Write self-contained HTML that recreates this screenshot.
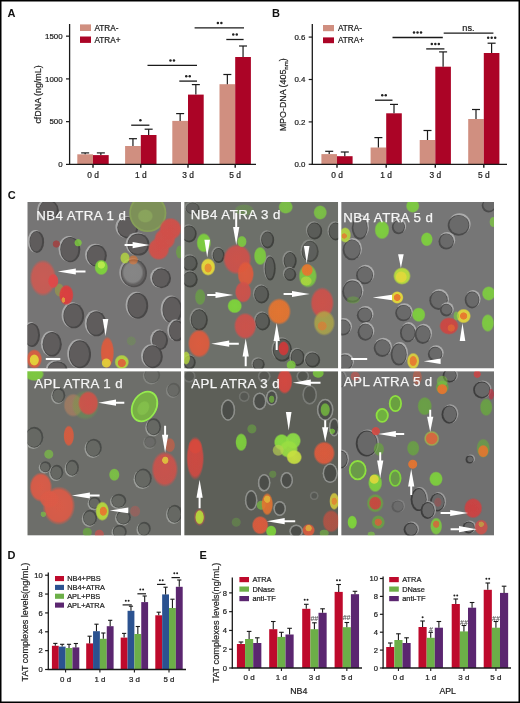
<!DOCTYPE html>
<html><head><meta charset="utf-8"><style>
html,body{margin:0;padding:0;background:#fff;}
svg{display:block;will-change:transform;}
text{font-family:"Liberation Sans", sans-serif;}
</style></head><body>
<svg width="520" height="703" viewBox="0 0 520 703">
<defs>
<filter id="soft" x="-5%" y="-5%" width="110%" height="110%"><feGaussianBlur stdDeviation="0.6"/></filter>
<radialGradient id="gr0"><stop offset="0" stop-color="#8a8a8a"/><stop offset="0.8" stop-color="#8a8a8a" stop-opacity="0.95"/><stop offset="1" stop-color="#8a8a8a" stop-opacity="0"/></radialGradient><radialGradient id="gr1"><stop offset="0" stop-color="#cc5a52"/><stop offset="0.8" stop-color="#cc5a52" stop-opacity="0.95"/><stop offset="1" stop-color="#cc5a52" stop-opacity="0"/></radialGradient><radialGradient id="gr2"><stop offset="0" stop-color="#96b860"/><stop offset="0.8" stop-color="#96b860" stop-opacity="0.95"/><stop offset="1" stop-color="#96b860" stop-opacity="0"/></radialGradient><radialGradient id="gr3"><stop offset="0" stop-color="#d0504a"/><stop offset="0.8" stop-color="#d0504a" stop-opacity="0.95"/><stop offset="1" stop-color="#d0504a" stop-opacity="0"/></radialGradient><radialGradient id="gr4"><stop offset="0" stop-color="#a0a040"/><stop offset="0.8" stop-color="#a0a040" stop-opacity="0.95"/><stop offset="1" stop-color="#a0a040" stop-opacity="0"/></radialGradient><radialGradient id="gr5"><stop offset="0" stop-color="#e04848"/><stop offset="0.8" stop-color="#e04848" stop-opacity="0.95"/><stop offset="1" stop-color="#e04848" stop-opacity="0"/></radialGradient><radialGradient id="gr6"><stop offset="0" stop-color="#e03c3c"/><stop offset="0.8" stop-color="#e03c3c" stop-opacity="0.95"/><stop offset="1" stop-color="#e03c3c" stop-opacity="0"/></radialGradient><radialGradient id="gr7"><stop offset="0" stop-color="#e4d83a"/><stop offset="0.8" stop-color="#e4d83a" stop-opacity="0.95"/><stop offset="1" stop-color="#e4d83a" stop-opacity="0"/></radialGradient><radialGradient id="gr8"><stop offset="0" stop-color="#e05a3c"/><stop offset="0.8" stop-color="#e05a3c" stop-opacity="0.95"/><stop offset="1" stop-color="#e05a3c" stop-opacity="0"/></radialGradient><radialGradient id="gr9"><stop offset="0" stop-color="#b8dc3c"/><stop offset="0.8" stop-color="#b8dc3c" stop-opacity="0.95"/><stop offset="1" stop-color="#b8dc3c" stop-opacity="0"/></radialGradient><radialGradient id="gr10"><stop offset="0" stop-color="#a04040"/><stop offset="0.8" stop-color="#a04040" stop-opacity="0.95"/><stop offset="1" stop-color="#a04040" stop-opacity="0"/></radialGradient><radialGradient id="gr11"><stop offset="0" stop-color="#7ed23c"/><stop offset="0.8" stop-color="#7ed23c" stop-opacity="0.95"/><stop offset="1" stop-color="#7ed23c" stop-opacity="0"/></radialGradient><radialGradient id="gr12"><stop offset="0" stop-color="#c8f050"/><stop offset="0.8" stop-color="#c8f050" stop-opacity="0.95"/><stop offset="1" stop-color="#c8f050" stop-opacity="0"/></radialGradient><radialGradient id="gr13"><stop offset="0" stop-color="#e8742e"/><stop offset="0.8" stop-color="#e8742e" stop-opacity="0.95"/><stop offset="1" stop-color="#e8742e" stop-opacity="0"/></radialGradient><radialGradient id="gr14"><stop offset="0" stop-color="#6aa83e"/><stop offset="0.8" stop-color="#6aa83e" stop-opacity="0.95"/><stop offset="1" stop-color="#6aa83e" stop-opacity="0"/></radialGradient><radialGradient id="gr15"><stop offset="0" stop-color="#b0a848"/><stop offset="0.8" stop-color="#b0a848" stop-opacity="0.95"/><stop offset="1" stop-color="#b0a848" stop-opacity="0"/></radialGradient><radialGradient id="gr16"><stop offset="0" stop-color="#d03838"/><stop offset="0.8" stop-color="#d03838" stop-opacity="0.95"/><stop offset="1" stop-color="#d03838" stop-opacity="0"/></radialGradient><radialGradient id="gr17"><stop offset="0" stop-color="#d04440"/><stop offset="0.8" stop-color="#d04440" stop-opacity="0.95"/><stop offset="1" stop-color="#d04440" stop-opacity="0"/></radialGradient><radialGradient id="gr18"><stop offset="0" stop-color="#b08060"/><stop offset="0.8" stop-color="#b08060" stop-opacity="0.95"/><stop offset="1" stop-color="#b08060" stop-opacity="0"/></radialGradient><radialGradient id="gr19"><stop offset="0" stop-color="#8ac850"/><stop offset="0.8" stop-color="#8ac850" stop-opacity="0.95"/><stop offset="1" stop-color="#8ac850" stop-opacity="0"/></radialGradient><radialGradient id="gr20"><stop offset="0" stop-color="#dc5a46"/><stop offset="0.8" stop-color="#dc5a46" stop-opacity="0.95"/><stop offset="1" stop-color="#dc5a46" stop-opacity="0"/></radialGradient><radialGradient id="gr21"><stop offset="0" stop-color="#b85a52"/><stop offset="0.8" stop-color="#b85a52" stop-opacity="0.95"/><stop offset="1" stop-color="#b85a52" stop-opacity="0"/></radialGradient><radialGradient id="gr22"><stop offset="0" stop-color="#d84840"/><stop offset="0.8" stop-color="#d84840" stop-opacity="0.95"/><stop offset="1" stop-color="#d84840" stop-opacity="0"/></radialGradient><radialGradient id="gr23"><stop offset="0" stop-color="#8ade40"/><stop offset="0.8" stop-color="#8ade40" stop-opacity="0.95"/><stop offset="1" stop-color="#8ade40" stop-opacity="0"/></radialGradient><radialGradient id="gr24"><stop offset="0" stop-color="#8ede44"/><stop offset="0.8" stop-color="#8ede44" stop-opacity="0.95"/><stop offset="1" stop-color="#8ede44" stop-opacity="0"/></radialGradient><radialGradient id="gr25"><stop offset="0" stop-color="#9ade42"/><stop offset="0.8" stop-color="#9ade42" stop-opacity="0.95"/><stop offset="1" stop-color="#9ade42" stop-opacity="0"/></radialGradient><radialGradient id="gr26"><stop offset="0" stop-color="#c8e040"/><stop offset="0.8" stop-color="#c8e040" stop-opacity="0.95"/><stop offset="1" stop-color="#c8e040" stop-opacity="0"/></radialGradient><radialGradient id="gr27"><stop offset="0" stop-color="#b8d050"/><stop offset="0.8" stop-color="#b8d050" stop-opacity="0.95"/><stop offset="1" stop-color="#b8d050" stop-opacity="0"/></radialGradient><radialGradient id="gr28"><stop offset="0" stop-color="#e04838"/><stop offset="0.8" stop-color="#e04838" stop-opacity="0.95"/><stop offset="1" stop-color="#e04838" stop-opacity="0"/></radialGradient><radialGradient id="gr29"><stop offset="0" stop-color="#c05040"/><stop offset="0.8" stop-color="#c05040" stop-opacity="0.95"/><stop offset="1" stop-color="#c05040" stop-opacity="0"/></radialGradient><radialGradient id="gr30"><stop offset="0" stop-color="#d84040"/><stop offset="0.8" stop-color="#d84040" stop-opacity="0.95"/><stop offset="1" stop-color="#d84040" stop-opacity="0"/></radialGradient><radialGradient id="gr31"><stop offset="0" stop-color="#c03040"/><stop offset="0.8" stop-color="#c03040" stop-opacity="0.95"/><stop offset="1" stop-color="#c03040" stop-opacity="0"/></radialGradient><radialGradient id="gr32"><stop offset="0" stop-color="#d04040"/><stop offset="0.8" stop-color="#d04040" stop-opacity="0.95"/><stop offset="1" stop-color="#d04040" stop-opacity="0"/></radialGradient><radialGradient id="gr33"><stop offset="0" stop-color="#a05050"/><stop offset="0.8" stop-color="#a05050" stop-opacity="0.95"/><stop offset="1" stop-color="#a05050" stop-opacity="0"/></radialGradient><radialGradient id="rim" cx="0.45" cy="0.45" r="0.56"><stop offset="0.85" stop-color="#a2a2a2"/><stop offset="0.95" stop-color="#929292"/><stop offset="1" stop-color="#858585" stop-opacity="0.3"/></radialGradient><radialGradient id="cellin" cx="0.45" cy="0.45" r="0.55"><stop offset="0" stop-color="#626262"/><stop offset="0.75" stop-color="#5a5a5a"/><stop offset="1" stop-color="#4a4a4a"/></radialGradient><radialGradient id="gred"><stop offset="0" stop-color="#e4553f"/><stop offset="0.75" stop-color="#d4463a"/><stop offset="1" stop-color="#c84038" stop-opacity="0"/></radialGradient>
<radialGradient id="ggreen"><stop offset="0" stop-color="#8fcf48"/><stop offset="0.75" stop-color="#78c23a"/><stop offset="1" stop-color="#6aaa3a" stop-opacity="0"/></radialGradient>
<radialGradient id="gyel"><stop offset="0" stop-color="#e6e040"/><stop offset="0.6" stop-color="#d8d040" stop-opacity="0.8"/><stop offset="1" stop-color="#d0c840" stop-opacity="0"/></radialGradient>
</defs>
<rect width="520" height="703" fill="#fff"/>
<text x="7.60" y="17.00" font-size="11" text-anchor="start" fill="#111" font-weight="bold" >A</text>
<line x1="66.00" y1="164.40" x2="69.60" y2="164.40" stroke="#1a1a1a" stroke-width="1.2"/>
<text x="62.60" y="167.20" font-size="7.9" text-anchor="end" fill="#222" font-weight="normal" stroke="#222" stroke-width="0.22" >0</text>
<line x1="66.00" y1="121.65" x2="69.60" y2="121.65" stroke="#1a1a1a" stroke-width="1.2"/>
<text x="62.60" y="124.45" font-size="7.9" text-anchor="end" fill="#222" font-weight="normal" stroke="#222" stroke-width="0.22" >500</text>
<line x1="66.00" y1="78.90" x2="69.60" y2="78.90" stroke="#1a1a1a" stroke-width="1.2"/>
<text x="62.60" y="81.70" font-size="7.9" text-anchor="end" fill="#222" font-weight="normal" stroke="#222" stroke-width="0.22" >1000</text>
<line x1="66.00" y1="36.15" x2="69.60" y2="36.15" stroke="#1a1a1a" stroke-width="1.2"/>
<text x="62.60" y="38.95" font-size="7.9" text-anchor="end" fill="#222" font-weight="normal" stroke="#222" stroke-width="0.22" >1500</text>
<text transform="translate(40.6,94.5) rotate(-90)" font-size="8.9" text-anchor="middle" fill="#222" stroke="#222" stroke-width="0.2">cfDNA (ng/mL)</text>
<rect x="77.30" y="154.30" width="15.70" height="10.10" fill="#d08f80"/>
<rect x="93.00" y="155.10" width="15.70" height="9.30" fill="#ab0426"/>
<line x1="85.15" y1="154.30" x2="85.15" y2="152.90" stroke="#1a1a1a" stroke-width="1.2"/>
<line x1="81.15" y1="152.90" x2="89.15" y2="152.90" stroke="#1a1a1a" stroke-width="1.2"/>
<line x1="100.85" y1="155.10" x2="100.85" y2="152.90" stroke="#1a1a1a" stroke-width="1.2"/>
<line x1="96.85" y1="152.90" x2="104.85" y2="152.90" stroke="#1a1a1a" stroke-width="1.2"/>
<line x1="93.00" y1="164.40" x2="93.00" y2="167.80" stroke="#1a1a1a" stroke-width="1.4"/>
<text x="93.00" y="178.30" font-size="8.4" text-anchor="middle" fill="#222" font-weight="normal" stroke="#222" stroke-width="0.22" >0 d</text>
<rect x="125.10" y="146.00" width="15.70" height="18.40" fill="#d08f80"/>
<rect x="140.80" y="135.00" width="15.70" height="29.40" fill="#ab0426"/>
<line x1="132.95" y1="146.00" x2="132.95" y2="138.70" stroke="#1a1a1a" stroke-width="1.2"/>
<line x1="128.95" y1="138.70" x2="136.95" y2="138.70" stroke="#1a1a1a" stroke-width="1.2"/>
<line x1="148.65" y1="135.00" x2="148.65" y2="129.20" stroke="#1a1a1a" stroke-width="1.2"/>
<line x1="144.65" y1="129.20" x2="152.65" y2="129.20" stroke="#1a1a1a" stroke-width="1.2"/>
<line x1="140.80" y1="164.40" x2="140.80" y2="167.80" stroke="#1a1a1a" stroke-width="1.4"/>
<text x="140.80" y="178.30" font-size="8.4" text-anchor="middle" fill="#222" font-weight="normal" stroke="#222" stroke-width="0.22" >1 d</text>
<rect x="172.30" y="120.90" width="15.70" height="43.50" fill="#d08f80"/>
<rect x="188.00" y="94.60" width="15.70" height="69.80" fill="#ab0426"/>
<line x1="180.15" y1="120.90" x2="180.15" y2="113.60" stroke="#1a1a1a" stroke-width="1.2"/>
<line x1="176.15" y1="113.60" x2="184.15" y2="113.60" stroke="#1a1a1a" stroke-width="1.2"/>
<line x1="195.85" y1="94.60" x2="195.85" y2="84.60" stroke="#1a1a1a" stroke-width="1.2"/>
<line x1="191.85" y1="84.60" x2="199.85" y2="84.60" stroke="#1a1a1a" stroke-width="1.2"/>
<line x1="188.00" y1="164.40" x2="188.00" y2="167.80" stroke="#1a1a1a" stroke-width="1.4"/>
<text x="188.00" y="178.30" font-size="8.4" text-anchor="middle" fill="#222" font-weight="normal" stroke="#222" stroke-width="0.22" >3 d</text>
<rect x="219.50" y="84.20" width="15.70" height="80.20" fill="#d08f80"/>
<rect x="235.20" y="57.00" width="15.70" height="107.40" fill="#ab0426"/>
<line x1="227.35" y1="84.20" x2="227.35" y2="74.50" stroke="#1a1a1a" stroke-width="1.2"/>
<line x1="223.35" y1="74.50" x2="231.35" y2="74.50" stroke="#1a1a1a" stroke-width="1.2"/>
<line x1="243.05" y1="57.00" x2="243.05" y2="46.00" stroke="#1a1a1a" stroke-width="1.2"/>
<line x1="239.05" y1="46.00" x2="247.05" y2="46.00" stroke="#1a1a1a" stroke-width="1.2"/>
<line x1="235.20" y1="164.40" x2="235.20" y2="167.80" stroke="#1a1a1a" stroke-width="1.4"/>
<text x="235.20" y="178.30" font-size="8.4" text-anchor="middle" fill="#222" font-weight="normal" stroke="#222" stroke-width="0.22" >5 d</text>
<line x1="69.60" y1="24.00" x2="69.60" y2="165.00" stroke="#1a1a1a" stroke-width="1.3"/>
<line x1="69.00" y1="164.40" x2="256.00" y2="164.40" stroke="#1a1a1a" stroke-width="1.3"/>
<rect x="80.00" y="24.40" width="11.00" height="6.60" fill="#d08f80"/>
<rect x="80.00" y="36.50" width="11.00" height="6.40" fill="#ab0426"/>
<text x="94.50" y="30.80" font-size="8.2" text-anchor="start" fill="#222" font-weight="normal" stroke="#222" stroke-width="0.22" >ATRA-</text>
<text x="94.50" y="42.80" font-size="8.2" text-anchor="start" fill="#222" font-weight="normal" stroke="#222" stroke-width="0.22" >ATRA+</text>
<line x1="131.20" y1="125.20" x2="149.40" y2="125.20" stroke="#1a1a1a" stroke-width="1.3"/>
<circle cx="140.40" cy="120.20" r="1.25" fill="#222"/>
<line x1="147.50" y1="65.30" x2="197.00" y2="65.30" stroke="#1a1a1a" stroke-width="1.3"/>
<circle cx="170.45" cy="60.40" r="1.25" fill="#222"/>
<circle cx="173.95" cy="60.40" r="1.25" fill="#222"/>
<line x1="179.30" y1="81.10" x2="197.00" y2="81.10" stroke="#1a1a1a" stroke-width="1.3"/>
<circle cx="186.25" cy="76.20" r="1.25" fill="#222"/>
<circle cx="189.75" cy="76.20" r="1.25" fill="#222"/>
<line x1="194.60" y1="27.90" x2="244.00" y2="27.90" stroke="#1a1a1a" stroke-width="1.3"/>
<circle cx="217.85" cy="23.00" r="1.25" fill="#222"/>
<circle cx="221.35" cy="23.00" r="1.25" fill="#222"/>
<line x1="226.30" y1="39.50" x2="243.60" y2="39.50" stroke="#1a1a1a" stroke-width="1.3"/>
<circle cx="233.25" cy="34.40" r="1.25" fill="#222"/>
<circle cx="236.75" cy="34.40" r="1.25" fill="#222"/>
<text x="272.00" y="17.20" font-size="11" text-anchor="start" fill="#111" font-weight="bold" >B</text>
<line x1="308.70" y1="164.30" x2="312.30" y2="164.30" stroke="#1a1a1a" stroke-width="1.2"/>
<text x="305.40" y="167.10" font-size="7.9" text-anchor="end" fill="#222" font-weight="normal" stroke="#222" stroke-width="0.22" >0.0</text>
<line x1="308.70" y1="121.90" x2="312.30" y2="121.90" stroke="#1a1a1a" stroke-width="1.2"/>
<text x="305.40" y="124.70" font-size="7.9" text-anchor="end" fill="#222" font-weight="normal" stroke="#222" stroke-width="0.22" >0.2</text>
<line x1="308.70" y1="79.50" x2="312.30" y2="79.50" stroke="#1a1a1a" stroke-width="1.2"/>
<text x="305.40" y="82.30" font-size="7.9" text-anchor="end" fill="#222" font-weight="normal" stroke="#222" stroke-width="0.22" >0.4</text>
<line x1="308.70" y1="37.10" x2="312.30" y2="37.10" stroke="#1a1a1a" stroke-width="1.2"/>
<text x="305.40" y="39.90" font-size="7.9" text-anchor="end" fill="#222" font-weight="normal" stroke="#222" stroke-width="0.22" >0.6</text>
<text transform="translate(286,94.8) rotate(-90)" font-size="8.9" text-anchor="middle" fill="#222" stroke="#222" stroke-width="0.2">MPO-DNA (405<tspan font-size="6" dy="1.5">nm</tspan><tspan dy="-1.5">)</tspan></text>
<rect x="321.40" y="154.10" width="15.60" height="10.20" fill="#d08f80"/>
<rect x="337.00" y="156.20" width="15.60" height="8.10" fill="#ab0426"/>
<line x1="329.20" y1="154.10" x2="329.20" y2="151.30" stroke="#1a1a1a" stroke-width="1.2"/>
<line x1="325.20" y1="151.30" x2="333.20" y2="151.30" stroke="#1a1a1a" stroke-width="1.2"/>
<line x1="344.80" y1="156.20" x2="344.80" y2="152.00" stroke="#1a1a1a" stroke-width="1.2"/>
<line x1="340.80" y1="152.00" x2="348.80" y2="152.00" stroke="#1a1a1a" stroke-width="1.2"/>
<line x1="337.00" y1="164.30" x2="337.00" y2="167.70" stroke="#1a1a1a" stroke-width="1.4"/>
<text x="337.00" y="178.30" font-size="8.4" text-anchor="middle" fill="#222" font-weight="normal" stroke="#222" stroke-width="0.22" >0 d</text>
<rect x="370.60" y="147.50" width="15.60" height="16.80" fill="#d08f80"/>
<rect x="386.20" y="113.30" width="15.60" height="51.00" fill="#ab0426"/>
<line x1="378.40" y1="147.50" x2="378.40" y2="137.60" stroke="#1a1a1a" stroke-width="1.2"/>
<line x1="374.40" y1="137.60" x2="382.40" y2="137.60" stroke="#1a1a1a" stroke-width="1.2"/>
<line x1="394.00" y1="113.30" x2="394.00" y2="104.40" stroke="#1a1a1a" stroke-width="1.2"/>
<line x1="390.00" y1="104.40" x2="398.00" y2="104.40" stroke="#1a1a1a" stroke-width="1.2"/>
<line x1="386.20" y1="164.30" x2="386.20" y2="167.70" stroke="#1a1a1a" stroke-width="1.4"/>
<text x="386.20" y="178.30" font-size="8.4" text-anchor="middle" fill="#222" font-weight="normal" stroke="#222" stroke-width="0.22" >1 d</text>
<rect x="419.70" y="140.00" width="15.60" height="24.30" fill="#d08f80"/>
<rect x="435.30" y="66.70" width="15.60" height="97.60" fill="#ab0426"/>
<line x1="427.50" y1="140.00" x2="427.50" y2="130.50" stroke="#1a1a1a" stroke-width="1.2"/>
<line x1="423.50" y1="130.50" x2="431.50" y2="130.50" stroke="#1a1a1a" stroke-width="1.2"/>
<line x1="443.10" y1="66.70" x2="443.10" y2="51.90" stroke="#1a1a1a" stroke-width="1.2"/>
<line x1="439.10" y1="51.90" x2="447.10" y2="51.90" stroke="#1a1a1a" stroke-width="1.2"/>
<line x1="435.30" y1="164.30" x2="435.30" y2="167.70" stroke="#1a1a1a" stroke-width="1.4"/>
<text x="435.30" y="178.30" font-size="8.4" text-anchor="middle" fill="#222" font-weight="normal" stroke="#222" stroke-width="0.22" >3 d</text>
<rect x="468.20" y="119.00" width="15.60" height="45.30" fill="#d08f80"/>
<rect x="483.80" y="53.00" width="15.60" height="111.30" fill="#ab0426"/>
<line x1="476.00" y1="119.00" x2="476.00" y2="109.50" stroke="#1a1a1a" stroke-width="1.2"/>
<line x1="472.00" y1="109.50" x2="480.00" y2="109.50" stroke="#1a1a1a" stroke-width="1.2"/>
<line x1="491.60" y1="53.00" x2="491.60" y2="43.20" stroke="#1a1a1a" stroke-width="1.2"/>
<line x1="487.60" y1="43.20" x2="495.60" y2="43.20" stroke="#1a1a1a" stroke-width="1.2"/>
<line x1="483.80" y1="164.30" x2="483.80" y2="167.70" stroke="#1a1a1a" stroke-width="1.4"/>
<text x="483.80" y="178.30" font-size="8.4" text-anchor="middle" fill="#222" font-weight="normal" stroke="#222" stroke-width="0.22" >5 d</text>
<line x1="312.30" y1="24.00" x2="312.30" y2="164.90" stroke="#1a1a1a" stroke-width="1.3"/>
<line x1="311.70" y1="164.30" x2="507.00" y2="164.30" stroke="#1a1a1a" stroke-width="1.3"/>
<rect x="323.00" y="25.00" width="11.00" height="6.20" fill="#d08f80"/>
<rect x="323.00" y="37.40" width="11.00" height="5.80" fill="#ab0426"/>
<text x="338.00" y="31.00" font-size="8.2" text-anchor="start" fill="#222" font-weight="normal" stroke="#222" stroke-width="0.22" >ATRA-</text>
<text x="338.00" y="43.20" font-size="8.2" text-anchor="start" fill="#222" font-weight="normal" stroke="#222" stroke-width="0.22" >ATRA+</text>
<line x1="375.00" y1="100.20" x2="392.50" y2="100.20" stroke="#1a1a1a" stroke-width="1.3"/>
<circle cx="382.25" cy="95.30" r="1.25" fill="#222"/>
<circle cx="385.75" cy="95.30" r="1.25" fill="#222"/>
<line x1="392.50" y1="37.50" x2="442.80" y2="37.50" stroke="#1a1a1a" stroke-width="1.3"/>
<circle cx="414.00" cy="32.50" r="1.25" fill="#222"/>
<circle cx="417.50" cy="32.50" r="1.25" fill="#222"/>
<circle cx="421.00" cy="32.50" r="1.25" fill="#222"/>
<line x1="426.20" y1="48.90" x2="444.40" y2="48.90" stroke="#1a1a1a" stroke-width="1.3"/>
<circle cx="431.80" cy="43.90" r="1.25" fill="#222"/>
<circle cx="435.30" cy="43.90" r="1.25" fill="#222"/>
<circle cx="438.80" cy="43.90" r="1.25" fill="#222"/>
<line x1="443.70" y1="33.20" x2="493.40" y2="33.20" stroke="#1a1a1a" stroke-width="1.3"/>
<text x="468.40" y="31.00" font-size="9.2" text-anchor="middle" fill="#222" font-weight="normal" stroke="#222" stroke-width="0.22" >ns.</text>
<circle cx="488.20" cy="37.80" r="1.25" fill="#222"/>
<circle cx="491.70" cy="37.80" r="1.25" fill="#222"/>
<circle cx="495.20" cy="37.80" r="1.25" fill="#222"/>
<text x="7.80" y="199.00" font-size="11" text-anchor="start" fill="#111" font-weight="bold" >C</text>
<clipPath id="clipI1"><rect x="27.3" y="202.0" width="153.7" height="166.5"/></clipPath>
<g clip-path="url(#clipI1)"><g filter="url(#soft)">
<rect x="27.30" y="202.00" width="153.70" height="166.50" fill="#767474"/>
<g opacity="1"><ellipse cx="47.3" cy="209.6" rx="10.3" ry="10.8" fill="#a8a8a8"/><ellipse cx="48.8" cy="210.3" rx="10.0" ry="10.5" fill="#484747"/><ellipse cx="48.1" cy="210.0" rx="8.8" ry="9.3" fill="#5e5c5c"/></g>
<g opacity="1"><ellipse cx="35.3" cy="241.2" rx="7.6" ry="11.3" fill="#a8a8a8"/><ellipse cx="36.8" cy="241.9" rx="7.3" ry="11.0" fill="#484747"/><ellipse cx="36.1" cy="241.6" rx="6.1" ry="9.8" fill="#5e5c5c"/></g>
<g opacity="1"><ellipse cx="68.8" cy="248.9" rx="10.3" ry="13.0" fill="#a8a8a8"/><ellipse cx="70.3" cy="249.6" rx="10.0" ry="12.7" fill="#484747"/><ellipse cx="69.6" cy="249.3" rx="8.8" ry="11.5" fill="#5e5c5c"/></g>
<g opacity="1"><ellipse cx="95.3" cy="255.1" rx="10.3" ry="11.3" fill="#a8a8a8"/><ellipse cx="96.8" cy="255.8" rx="10.0" ry="11.0" fill="#484747"/><ellipse cx="96.1" cy="255.5" rx="8.8" ry="9.8" fill="#5e5c5c"/></g>
<g opacity="1"><ellipse cx="126.3" cy="226.9" rx="10.8" ry="11.0" fill="#a8a8a8"/><ellipse cx="127.8" cy="227.6" rx="10.5" ry="10.7" fill="#484747"/><ellipse cx="127.1" cy="227.3" rx="9.3" ry="9.5" fill="#5e5c5c"/></g>
<g opacity="1"><ellipse cx="137.0" cy="243.9" rx="11.3" ry="11.3" fill="#a8a8a8"/><ellipse cx="138.5" cy="244.6" rx="11.0" ry="11.0" fill="#484747"/><ellipse cx="137.8" cy="244.3" rx="9.8" ry="9.8" fill="#5e5c5c"/></g>
<g opacity="0.8"><ellipse cx="132.5" cy="272.6" rx="13.3" ry="14.3" fill="#a8a8a8"/><ellipse cx="134.0" cy="273.3" rx="13.0" ry="14.0" fill="#484747"/><ellipse cx="133.3" cy="273.0" rx="11.8" ry="12.8" fill="#5e5c5c"/></g>
<ellipse cx="132.8" cy="272.5" rx="11.0" ry="12.0" fill="url(#gr0)" opacity="0.9"/>
<g opacity="1"><ellipse cx="160.0" cy="277.6" rx="9.8" ry="10.3" fill="#a8a8a8"/><ellipse cx="161.5" cy="278.3" rx="9.5" ry="10.0" fill="#484747"/><ellipse cx="160.8" cy="278.0" rx="8.3" ry="8.8" fill="#5e5c5c"/></g>
<g opacity="1"><ellipse cx="72.3" cy="315.1" rx="10.7" ry="12.8" fill="#a8a8a8"/><ellipse cx="73.8" cy="315.8" rx="10.4" ry="12.5" fill="#484747"/><ellipse cx="73.1" cy="315.5" rx="9.2" ry="11.3" fill="#5e5c5c"/></g>
<g opacity="1"><ellipse cx="95.0" cy="323.1" rx="10.3" ry="12.8" fill="#a8a8a8"/><ellipse cx="96.5" cy="323.8" rx="10.0" ry="12.5" fill="#484747"/><ellipse cx="95.8" cy="323.5" rx="8.8" ry="11.3" fill="#5e5c5c"/></g>
<g opacity="1"><ellipse cx="30.5" cy="334.3" rx="8.3" ry="12.3" fill="#a8a8a8"/><ellipse cx="32.0" cy="335.0" rx="8.0" ry="12.0" fill="#484747"/><ellipse cx="31.3" cy="334.7" rx="6.8" ry="10.8" fill="#5e5c5c"/></g>
<g opacity="1"><ellipse cx="50.7" cy="343.6" rx="9.9" ry="12.6" fill="#a8a8a8"/><ellipse cx="52.2" cy="344.3" rx="9.6" ry="12.3" fill="#484747"/><ellipse cx="51.5" cy="344.0" rx="8.4" ry="11.1" fill="#5e5c5c"/></g>
<g opacity="1"><ellipse cx="78.5" cy="353.6" rx="11.3" ry="14.3" fill="#a8a8a8"/><ellipse cx="80.0" cy="354.3" rx="11.0" ry="14.0" fill="#484747"/><ellipse cx="79.3" cy="354.0" rx="9.8" ry="12.8" fill="#5e5c5c"/></g>
<g opacity="1"><ellipse cx="56.0" cy="368.6" rx="10.3" ry="8.3" fill="#a8a8a8"/><ellipse cx="57.5" cy="369.3" rx="10.0" ry="8.0" fill="#484747"/><ellipse cx="56.8" cy="369.0" rx="8.8" ry="6.8" fill="#5e5c5c"/></g>
<g opacity="1"><ellipse cx="136.3" cy="305.1" rx="10.7" ry="13.3" fill="#a8a8a8"/><ellipse cx="137.8" cy="305.8" rx="10.4" ry="13.0" fill="#484747"/><ellipse cx="137.1" cy="305.5" rx="9.2" ry="11.8" fill="#5e5c5c"/></g>
<g opacity="1"><ellipse cx="171.0" cy="309.3" rx="10.3" ry="13.7" fill="#a8a8a8"/><ellipse cx="172.5" cy="310.0" rx="10.0" ry="13.4" fill="#484747"/><ellipse cx="171.8" cy="309.7" rx="8.8" ry="12.2" fill="#5e5c5c"/></g>
<g opacity="1"><ellipse cx="175.5" cy="330.1" rx="8.3" ry="10.8" fill="#a8a8a8"/><ellipse cx="177.0" cy="330.8" rx="8.0" ry="10.5" fill="#484747"/><ellipse cx="176.3" cy="330.5" rx="6.8" ry="9.3" fill="#5e5c5c"/></g>
<g opacity="1"><ellipse cx="158.5" cy="339.6" rx="8.3" ry="10.3" fill="#a8a8a8"/><ellipse cx="160.0" cy="340.3" rx="8.0" ry="10.0" fill="#484747"/><ellipse cx="159.3" cy="340.0" rx="6.8" ry="8.8" fill="#5e5c5c"/></g>
<g opacity="1"><ellipse cx="151.3" cy="356.0" rx="10.3" ry="11.8" fill="#a8a8a8"/><ellipse cx="152.8" cy="356.7" rx="10.0" ry="11.5" fill="#484747"/><ellipse cx="152.1" cy="356.4" rx="8.8" ry="10.3" fill="#5e5c5c"/></g>
<ellipse cx="43.0" cy="278.0" rx="13.5" ry="18.5" fill="url(#gr1)" opacity="0.95"/>
<ellipse cx="147.8" cy="213.0" rx="17.7" ry="18.2" fill="#7d9058" stroke="#869e58" stroke-width="1.8"/>
<ellipse cx="145.3" cy="216.0" rx="8.0" ry="7.0" fill="url(#gr2)" opacity="0.5"/>
<ellipse cx="170.5" cy="229.0" rx="11.5" ry="11.5" fill="url(#gr3)" opacity="1"/>
<ellipse cx="164.8" cy="239.0" rx="11.0" ry="11.0" fill="url(#gr3)" opacity="1"/>
<ellipse cx="158.7" cy="249.0" rx="11.0" ry="11.5" fill="url(#gr3)" opacity="1"/>
<ellipse cx="59.3" cy="290.0" rx="5.0" ry="7.0" fill="url(#gr4)" opacity="0.6"/>
<ellipse cx="53.3" cy="281.0" rx="5.5" ry="7.5" fill="url(#gr5)" opacity="0.95"/>
<ellipse cx="66.3" cy="295.0" rx="7.5" ry="10.5" fill="url(#gr6)" opacity="0.95"/>
<ellipse cx="63.3" cy="300.0" rx="2.0" ry="3.0" fill="url(#gr7)" opacity="0.6"/>
<ellipse cx="107.3" cy="352.5" rx="7.0" ry="16.0" fill="url(#gr8)" opacity="0.95"/>
<ellipse cx="106.3" cy="363.0" rx="5.0" ry="5.0" fill="url(#gr7)" opacity="0.9"/>
<ellipse cx="34.3" cy="359.0" rx="8.0" ry="10.0" fill="url(#gr8)" opacity="0.9"/>
<ellipse cx="34.3" cy="360.0" rx="5.0" ry="6.0" fill="url(#gr7)" opacity="0.95"/>
<ellipse cx="121.8" cy="362.0" rx="7.5" ry="7.5" fill="url(#gr9)" opacity="0.9"/>
<ellipse cx="121.8" cy="363.0" rx="4.5" ry="4.5" fill="url(#gr8)" opacity="0.9"/>
<ellipse cx="56.3" cy="244.0" rx="4.0" ry="4.0" fill="url(#gr10)" opacity="0.9"/>
<ellipse cx="101.3" cy="267.4" rx="7.0" ry="8.0" fill="url(#gr11)" opacity="1"/>
<ellipse cx="101.3" cy="265.0" rx="4.0" ry="4.0" fill="url(#gr12)" opacity="0.8"/>
<ellipse cx="78.1" cy="242.8" rx="4.0" ry="4.0" fill="url(#gr11)" opacity="0.8"/>
<ellipse cx="125.0" cy="258.0" rx="5.0" ry="6.0" fill="url(#gr9)" opacity="0.8"/>
<ellipse cx="133.3" cy="260.0" rx="5.0" ry="5.0" fill="url(#gr13)" opacity="0.6"/>
<ellipse cx="179.3" cy="252.0" rx="3.5" ry="7.0" fill="url(#gr14)" opacity="0.7"/>
<ellipse cx="131.3" cy="341.0" rx="5.0" ry="5.0" fill="url(#gr14)" opacity="0.3"/>
</g>
<line x1="124.6" y1="245.1" x2="133.6" y2="245.1" stroke="#fff" stroke-width="2"/>
<polygon points="149.7,245.1 132.6,248.2 132.6,242.0" fill="#fff"/>
<line x1="85.5" y1="271.5" x2="74.8" y2="271.5" stroke="#fff" stroke-width="2"/>
<polygon points="57.8,271.5 75.8,268.4 75.8,274.6" fill="#fff"/>
<polygon points="105.5,336.0 102.7,318.9 108.3,318.9" fill="#fff"/>
<line x1="45.80" y1="359.00" x2="60.30" y2="359.00" stroke="#fff" stroke-width="1.8"/>
<text x="36.2" y="219.8" font-size="13.3" letter-spacing="0.45" fill="#f6f6f6" stroke="#f6f6f6" stroke-width="0.25">NB4 ATRA 1 d</text>
</g>
<clipPath id="clipI2"><rect x="184.2" y="202.0" width="154.0" height="166.5"/></clipPath>
<g clip-path="url(#clipI2)"><g filter="url(#soft)">
<rect x="184.20" y="202.00" width="154.00" height="166.50" fill="#6d706b"/>
<g opacity="1"><ellipse cx="188.2" cy="233.0" rx="7.8" ry="8.8" fill="#8c8e8a"/><ellipse cx="189.2" cy="234.0" rx="7.5" ry="8.5" fill="#40423e"/><ellipse cx="188.7" cy="233.5" rx="6.3" ry="7.3" fill="#5a5c58"/></g>
<g opacity="1"><ellipse cx="189.2" cy="262.5" rx="7.8" ry="8.3" fill="#8c8e8a"/><ellipse cx="190.2" cy="263.5" rx="7.5" ry="8.0" fill="#40423e"/><ellipse cx="189.7" cy="263.0" rx="6.3" ry="6.8" fill="#5a5c58"/></g>
<g opacity="1"><ellipse cx="189.2" cy="278.5" rx="7.8" ry="8.3" fill="#8c8e8a"/><ellipse cx="190.2" cy="279.5" rx="7.5" ry="8.0" fill="#40423e"/><ellipse cx="189.7" cy="279.0" rx="6.3" ry="6.8" fill="#5a5c58"/></g>
<g opacity="1"><ellipse cx="217.7" cy="254.5" rx="6.3" ry="7.8" fill="#8c8e8a"/><ellipse cx="218.7" cy="255.5" rx="6.0" ry="7.5" fill="#40423e"/><ellipse cx="218.2" cy="255.0" rx="4.8" ry="6.3" fill="#5a5c58"/></g>
<g opacity="1"><ellipse cx="198.3" cy="319.0" rx="8.8" ry="11.0" fill="#8c8e8a"/><ellipse cx="199.3" cy="320.0" rx="8.5" ry="10.7" fill="#40423e"/><ellipse cx="198.8" cy="319.5" rx="7.3" ry="9.5" fill="#5a5c58"/></g>
<g opacity="1"><ellipse cx="260.7" cy="293.5" rx="7.8" ry="9.3" fill="#8c8e8a"/><ellipse cx="261.7" cy="294.5" rx="7.5" ry="9.0" fill="#40423e"/><ellipse cx="261.2" cy="294.0" rx="6.3" ry="7.8" fill="#5a5c58"/></g>
<g opacity="1"><ellipse cx="261.7" cy="320.5" rx="7.8" ry="9.3" fill="#8c8e8a"/><ellipse cx="262.7" cy="321.5" rx="7.5" ry="9.0" fill="#40423e"/><ellipse cx="262.2" cy="321.0" rx="6.3" ry="7.8" fill="#5a5c58"/></g>
<g opacity="1"><ellipse cx="266.7" cy="239.0" rx="6.8" ry="8.8" fill="#8c8e8a"/><ellipse cx="267.7" cy="240.0" rx="6.5" ry="8.5" fill="#40423e"/><ellipse cx="267.2" cy="239.5" rx="5.3" ry="7.3" fill="#5a5c58"/></g>
<g opacity="1"><ellipse cx="289.2" cy="260.0" rx="6.8" ry="9.3" fill="#8c8e8a"/><ellipse cx="290.2" cy="261.0" rx="6.5" ry="9.0" fill="#40423e"/><ellipse cx="289.7" cy="260.5" rx="5.3" ry="7.8" fill="#5a5c58"/></g>
<g opacity="1"><ellipse cx="269.2" cy="267.5" rx="5.8" ry="12.3" fill="#8c8e8a"/><ellipse cx="270.2" cy="268.5" rx="5.5" ry="12.0" fill="#40423e"/><ellipse cx="269.7" cy="268.0" rx="4.3" ry="10.8" fill="#5a5c58"/></g>
<g opacity="1"><ellipse cx="313.7" cy="230.0" rx="7.8" ry="8.8" fill="#8c8e8a"/><ellipse cx="314.7" cy="231.0" rx="7.5" ry="8.5" fill="#40423e"/><ellipse cx="314.2" cy="230.5" rx="6.3" ry="7.3" fill="#5a5c58"/></g>
<g opacity="1"><ellipse cx="334.7" cy="230.5" rx="7.3" ry="9.3" fill="#8c8e8a"/><ellipse cx="335.7" cy="231.5" rx="7.0" ry="9.0" fill="#40423e"/><ellipse cx="335.2" cy="231.0" rx="5.8" ry="7.8" fill="#5a5c58"/></g>
<g opacity="0.8"><ellipse cx="309.2" cy="250.5" rx="8.8" ry="11.0" fill="#8c8e8a"/><ellipse cx="310.2" cy="251.5" rx="8.5" ry="10.7" fill="#40423e"/><ellipse cx="309.7" cy="251.0" rx="7.3" ry="9.5" fill="#5a5c58"/></g>
<g opacity="1"><ellipse cx="289.2" cy="273.5" rx="6.3" ry="6.8" fill="#8c8e8a"/><ellipse cx="290.2" cy="274.5" rx="6.0" ry="6.5" fill="#40423e"/><ellipse cx="289.7" cy="274.0" rx="4.8" ry="5.3" fill="#5a5c58"/></g>
<g opacity="1"><ellipse cx="281.4" cy="349.0" rx="9.9" ry="11.8" fill="#8c8e8a"/><ellipse cx="282.4" cy="350.0" rx="9.6" ry="11.5" fill="#40423e"/><ellipse cx="281.9" cy="349.5" rx="8.4" ry="10.3" fill="#5a5c58"/></g>
<g opacity="1"><ellipse cx="296.7" cy="356.5" rx="7.3" ry="8.8" fill="#8c8e8a"/><ellipse cx="297.7" cy="357.5" rx="7.0" ry="8.5" fill="#40423e"/><ellipse cx="297.2" cy="357.0" rx="5.8" ry="7.3" fill="#5a5c58"/></g>
<g opacity="1"><ellipse cx="311.7" cy="359.0" rx="7.8" ry="7.8" fill="#8c8e8a"/><ellipse cx="312.7" cy="360.0" rx="7.5" ry="7.5" fill="#40423e"/><ellipse cx="312.2" cy="359.5" rx="6.3" ry="6.3" fill="#5a5c58"/></g>
<g opacity="1"><ellipse cx="257.7" cy="363.5" rx="6.3" ry="6.3" fill="#8c8e8a"/><ellipse cx="258.7" cy="364.5" rx="6.0" ry="6.0" fill="#40423e"/><ellipse cx="258.2" cy="364.0" rx="4.8" ry="4.8" fill="#5a5c58"/></g>
<g opacity="1"><ellipse cx="188.7" cy="361.5" rx="6.3" ry="7.3" fill="#8c8e8a"/><ellipse cx="189.7" cy="362.5" rx="6.0" ry="7.0" fill="#40423e"/><ellipse cx="189.2" cy="362.0" rx="4.8" ry="5.8" fill="#5a5c58"/></g>
<g opacity="0.7"><ellipse cx="191.7" cy="207.5" rx="7.3" ry="6.3" fill="#8c8e8a"/><ellipse cx="192.7" cy="208.5" rx="7.0" ry="6.0" fill="#40423e"/><ellipse cx="192.2" cy="208.0" rx="5.8" ry="4.8" fill="#5a5c58"/></g>
<ellipse cx="285.7" cy="207.0" rx="7.5" ry="7.0" fill="url(#gr11)" opacity="0.8"/>
<ellipse cx="320.2" cy="212.5" rx="7.0" ry="7.5" fill="url(#gr11)" opacity="0.8"/>
<ellipse cx="244.2" cy="210.0" rx="10.0" ry="6.0" fill="url(#gr14)" opacity="0.4"/>
<ellipse cx="203.8" cy="242.8" rx="7.5" ry="10.0" fill="url(#gr11)" opacity="0.95"/>
<ellipse cx="208.1" cy="267.0" rx="7.5" ry="9.0" fill="url(#gr7)" opacity="1"/>
<ellipse cx="208.1" cy="268.0" rx="4.0" ry="5.0" fill="url(#gr13)" opacity="0.7"/>
<ellipse cx="237.2" cy="259.3" rx="14.5" ry="15.5" fill="url(#gr3)" opacity="0.95"/>
<ellipse cx="245.7" cy="274.0" rx="8.5" ry="13.0" fill="url(#gr8)" opacity="0.95"/>
<ellipse cx="241.9" cy="241.6" rx="5.0" ry="6.0" fill="url(#gr11)" opacity="0.85"/>
<ellipse cx="260.2" cy="256.0" rx="6.5" ry="9.5" fill="url(#gr11)" opacity="0.9"/>
<ellipse cx="307.8" cy="276.0" rx="9.5" ry="12.0" fill="url(#gr11)" opacity="0.85"/>
<ellipse cx="307.2" cy="270.0" rx="6.0" ry="6.5" fill="url(#gr13)" opacity="0.95"/>
<ellipse cx="306.2" cy="281.0" rx="6.0" ry="5.0" fill="url(#gr9)" opacity="0.7"/>
<ellipse cx="243.2" cy="292.0" rx="8.5" ry="11.0" fill="url(#gr3)" opacity="0.95"/>
<ellipse cx="234.7" cy="306.0" rx="7.5" ry="7.5" fill="url(#gr11)" opacity="1"/>
<ellipse cx="245.2" cy="326.0" rx="11.5" ry="13.5" fill="url(#gr3)" opacity="0.95"/>
<ellipse cx="200.2" cy="297.0" rx="5.5" ry="8.5" fill="url(#gr14)" opacity="0.7"/>
<ellipse cx="199.2" cy="343.5" rx="11.5" ry="14.5" fill="url(#gr8)" opacity="0.95"/>
<ellipse cx="186.2" cy="358.0" rx="4.0" ry="7.0" fill="url(#gr9)" opacity="0.8"/>
<ellipse cx="279.2" cy="311.5" rx="12.0" ry="13.5" fill="url(#gr13)" opacity="0.95"/>
<ellipse cx="322.2" cy="303.0" rx="12.0" ry="16.0" fill="url(#gr3)" opacity="0.95"/>
<ellipse cx="324.2" cy="323.0" rx="11.0" ry="13.0" fill="url(#gr15)" opacity="0.85"/>
<ellipse cx="322.2" cy="326.0" rx="5.0" ry="5.0" fill="url(#gr13)" opacity="0.6"/>
<ellipse cx="283.6" cy="348.5" rx="5.5" ry="7.5" fill="url(#gr16)" opacity="0.95"/>
<ellipse cx="291.2" cy="365.0" rx="5.0" ry="5.0" fill="url(#gr11)" opacity="0.8"/>
</g>
<line x1="236.2" y1="212.8" x2="236.2" y2="228.0" stroke="#fff" stroke-width="2"/>
<polygon points="236.2,245.0 233.1,227.0 239.3,227.0" fill="#fff"/>
<line x1="207.2" y1="295.0" x2="216.5" y2="295.0" stroke="#fff" stroke-width="2"/>
<polygon points="233.2,295.0 215.5,298.1 215.5,291.9" fill="#fff"/>
<line x1="283.6" y1="294.0" x2="293.0" y2="294.0" stroke="#fff" stroke-width="2"/>
<polygon points="309.7,294.0 292.0,297.1 292.0,290.9" fill="#fff"/>
<line x1="238.8" y1="343.7" x2="228.2" y2="343.7" stroke="#fff" stroke-width="2"/>
<polygon points="211.2,343.7 229.2,340.6 229.2,346.8" fill="#fff"/>
<line x1="245.7" y1="366.3" x2="245.7" y2="355.6" stroke="#fff" stroke-width="2"/>
<polygon points="245.7,338.6 248.8,356.6 242.6,356.6" fill="#fff"/>
<line x1="276.7" y1="350.0" x2="276.7" y2="340.0" stroke="#fff" stroke-width="2"/>
<polygon points="276.7,323.0 279.8,341.0 273.6,341.0" fill="#fff"/>
<polygon points="207.2,257.4 204.4,239.7 210.0,239.7" fill="#fff"/>
<polygon points="306.7,263.5 303.9,246.0 309.5,246.0" fill="#fff"/>
<text x="190.7" y="219.4" font-size="13.3" letter-spacing="0.45" fill="#f6f6f6" stroke="#f6f6f6" stroke-width="0.25">NB4 ATRA 3 d</text>
</g>
<clipPath id="clipI3"><rect x="341.2" y="202.0" width="152.8" height="166.5"/></clipPath>
<g clip-path="url(#clipI3)"><g filter="url(#soft)">
<rect x="341.20" y="202.00" width="152.80" height="166.50" fill="#767676"/>
<g opacity="1"><ellipse cx="360.7" cy="226.7" rx="8.3" ry="11.9" fill="#acacac"/><ellipse cx="359.7" cy="228.0" rx="8.0" ry="11.6" fill="#4c4c4c"/><ellipse cx="360.2" cy="227.4" rx="6.8" ry="10.4" fill="#6a6a6a"/></g>
<g opacity="1"><ellipse cx="352.7" cy="248.6" rx="9.3" ry="10.7" fill="#acacac"/><ellipse cx="351.7" cy="249.9" rx="9.0" ry="10.4" fill="#4c4c4c"/><ellipse cx="352.2" cy="249.3" rx="7.8" ry="9.2" fill="#6a6a6a"/></g>
<g opacity="1"><ellipse cx="399.4" cy="225.9" rx="6.8" ry="7.3" fill="#acacac"/><ellipse cx="398.4" cy="227.2" rx="6.5" ry="7.0" fill="#4c4c4c"/><ellipse cx="398.9" cy="226.6" rx="5.3" ry="5.8" fill="#6a6a6a"/></g>
<g opacity="1"><ellipse cx="365.5" cy="274.0" rx="8.8" ry="9.3" fill="#acacac"/><ellipse cx="364.5" cy="275.3" rx="8.5" ry="9.0" fill="#4c4c4c"/><ellipse cx="365.0" cy="274.7" rx="7.3" ry="7.8" fill="#6a6a6a"/></g>
<g opacity="1"><ellipse cx="459.5" cy="224.0" rx="11.1" ry="10.7" fill="#acacac"/><ellipse cx="458.5" cy="225.3" rx="10.8" ry="10.4" fill="#4c4c4c"/><ellipse cx="459.0" cy="224.7" rx="9.6" ry="9.2" fill="#6a6a6a"/></g>
<g opacity="1"><ellipse cx="447.2" cy="240.2" rx="8.0" ry="8.3" fill="#acacac"/><ellipse cx="446.2" cy="241.5" rx="7.7" ry="8.0" fill="#4c4c4c"/><ellipse cx="446.7" cy="240.9" rx="6.5" ry="6.8" fill="#6a6a6a"/></g>
<g opacity="1"><ellipse cx="489.7" cy="204.3" rx="7.3" ry="7.3" fill="#acacac"/><ellipse cx="488.7" cy="205.6" rx="7.0" ry="7.0" fill="#4c4c4c"/><ellipse cx="489.2" cy="205.0" rx="5.8" ry="5.8" fill="#6a6a6a"/></g>
<g opacity="1"><ellipse cx="353.2" cy="290.3" rx="10.3" ry="11.3" fill="#acacac"/><ellipse cx="352.2" cy="291.6" rx="10.0" ry="11.0" fill="#4c4c4c"/><ellipse cx="352.7" cy="291.0" rx="8.8" ry="9.8" fill="#6a6a6a"/></g>
<g opacity="1"><ellipse cx="365.5" cy="314.0" rx="8.0" ry="8.0" fill="#acacac"/><ellipse cx="364.5" cy="315.3" rx="7.7" ry="7.7" fill="#4c4c4c"/><ellipse cx="365.0" cy="314.7" rx="6.5" ry="6.5" fill="#6a6a6a"/></g>
<g opacity="1"><ellipse cx="404.4" cy="311.8" rx="8.5" ry="8.5" fill="#acacac"/><ellipse cx="403.4" cy="313.1" rx="8.2" ry="8.2" fill="#4c4c4c"/><ellipse cx="403.9" cy="312.5" rx="7.0" ry="7.0" fill="#6a6a6a"/></g>
<g opacity="1"><ellipse cx="343.7" cy="326.3" rx="8.3" ry="8.3" fill="#acacac"/><ellipse cx="342.7" cy="327.6" rx="8.0" ry="8.0" fill="#4c4c4c"/><ellipse cx="343.2" cy="327.0" rx="6.8" ry="6.8" fill="#6a6a6a"/></g>
<g opacity="1"><ellipse cx="366.3" cy="330.9" rx="8.0" ry="8.8" fill="#acacac"/><ellipse cx="365.3" cy="332.2" rx="7.7" ry="8.5" fill="#4c4c4c"/><ellipse cx="365.8" cy="331.6" rx="6.5" ry="7.3" fill="#6a6a6a"/></g>
<g opacity="1"><ellipse cx="408.7" cy="331.7" rx="8.0" ry="9.6" fill="#acacac"/><ellipse cx="407.7" cy="333.0" rx="7.7" ry="9.3" fill="#4c4c4c"/><ellipse cx="408.2" cy="332.4" rx="6.5" ry="8.1" fill="#6a6a6a"/></g>
<g opacity="1"><ellipse cx="383.2" cy="346.8" rx="8.8" ry="9.1" fill="#acacac"/><ellipse cx="382.2" cy="348.1" rx="8.5" ry="8.8" fill="#4c4c4c"/><ellipse cx="382.7" cy="347.5" rx="7.3" ry="7.6" fill="#6a6a6a"/></g>
<g opacity="1"><ellipse cx="399.7" cy="353.3" rx="8.3" ry="11.3" fill="#acacac"/><ellipse cx="398.7" cy="354.6" rx="8.0" ry="11.0" fill="#4c4c4c"/><ellipse cx="399.2" cy="354.0" rx="6.8" ry="9.8" fill="#6a6a6a"/></g>
<g opacity="1"><ellipse cx="345.7" cy="361.3" rx="8.3" ry="8.3" fill="#acacac"/><ellipse cx="344.7" cy="362.6" rx="8.0" ry="8.0" fill="#4c4c4c"/><ellipse cx="345.2" cy="362.0" rx="6.8" ry="6.8" fill="#6a6a6a"/></g>
<g opacity="1"><ellipse cx="439.5" cy="299.0" rx="9.5" ry="9.9" fill="#acacac"/><ellipse cx="438.5" cy="300.3" rx="9.2" ry="9.6" fill="#4c4c4c"/><ellipse cx="439.0" cy="299.7" rx="8.0" ry="8.4" fill="#6a6a6a"/></g>
<g opacity="1"><ellipse cx="447.2" cy="308.8" rx="6.6" ry="6.6" fill="#acacac"/><ellipse cx="446.2" cy="310.1" rx="6.3" ry="6.3" fill="#4c4c4c"/><ellipse cx="446.7" cy="309.5" rx="5.1" ry="5.1" fill="#6a6a6a"/></g>
<g opacity="1"><ellipse cx="473.0" cy="298.8" rx="7.6" ry="8.8" fill="#acacac"/><ellipse cx="472.0" cy="300.1" rx="7.3" ry="8.5" fill="#4c4c4c"/><ellipse cx="472.5" cy="299.5" rx="6.1" ry="7.3" fill="#6a6a6a"/></g>
<g opacity="1"><ellipse cx="423.7" cy="333.3" rx="8.3" ry="9.6" fill="#acacac"/><ellipse cx="422.7" cy="334.6" rx="8.0" ry="9.3" fill="#4c4c4c"/><ellipse cx="423.2" cy="334.0" rx="6.8" ry="8.1" fill="#6a6a6a"/></g>
<g opacity="1"><ellipse cx="436.1" cy="352.8" rx="7.6" ry="7.6" fill="#acacac"/><ellipse cx="435.1" cy="354.1" rx="7.3" ry="7.3" fill="#4c4c4c"/><ellipse cx="435.6" cy="353.5" rx="6.1" ry="6.1" fill="#6a6a6a"/></g>
<ellipse cx="345.2" cy="235.0" rx="6.0" ry="8.0" fill="url(#gr9)" opacity="0.9"/>
<ellipse cx="344.2" cy="236.0" rx="3.0" ry="3.0" fill="url(#gr13)" opacity="0.8"/>
<ellipse cx="382.0" cy="230.0" rx="7.7" ry="9.6" fill="url(#gr11)" opacity="0.95"/>
<ellipse cx="412.7" cy="206.0" rx="7.0" ry="7.0" fill="url(#gr11)" opacity="0.9"/>
<ellipse cx="426.8" cy="239.3" rx="6.2" ry="7.3" fill="url(#gr11)" opacity="0.95"/>
<ellipse cx="493.2" cy="222.0" rx="4.0" ry="5.5" fill="url(#gr11)" opacity="0.7"/>
<ellipse cx="402.0" cy="276.0" rx="9.0" ry="9.0" fill="url(#gr9)" opacity="1"/>
<ellipse cx="401.2" cy="277.0" rx="6.0" ry="6.0" fill="url(#gr7)" opacity="0.9"/>
<ellipse cx="353.2" cy="300.0" rx="7.0" ry="4.0" fill="url(#gr14)" opacity="0.5"/>
<ellipse cx="397.2" cy="297.5" rx="6.5" ry="6.5" fill="url(#gr7)" opacity="1"/>
<ellipse cx="397.2" cy="297.5" rx="3.8" ry="3.8" fill="url(#gr13)" opacity="0.95"/>
<ellipse cx="418.7" cy="314.7" rx="7.0" ry="7.5" fill="url(#gr11)" opacity="0.95"/>
<ellipse cx="488.7" cy="293.5" rx="7.0" ry="7.5" fill="url(#gr11)" opacity="0.9"/>
<ellipse cx="463.6" cy="316.0" rx="7.5" ry="7.5" fill="url(#gr7)" opacity="0.95"/>
<ellipse cx="463.6" cy="316.0" rx="4.0" ry="4.0" fill="url(#gr13)" opacity="0.95"/>
<ellipse cx="456.2" cy="316.0" rx="3.0" ry="5.0" fill="url(#gr11)" opacity="0.6"/>
<ellipse cx="449.0" cy="326.0" rx="10.0" ry="9.0" fill="url(#gr17)" opacity="0.95"/>
<ellipse cx="451.2" cy="328.0" rx="4.0" ry="4.0" fill="url(#gr13)" opacity="0.6"/>
<ellipse cx="487.8" cy="323.0" rx="6.5" ry="9.2" fill="url(#gr11)" opacity="0.9"/>
<ellipse cx="413.2" cy="361.0" rx="6.5" ry="8.5" fill="url(#gr7)" opacity="0.9"/>
<ellipse cx="413.2" cy="361.0" rx="4.0" ry="5.5" fill="url(#gr13)" opacity="0.9"/>
</g>
<polygon points="400.9,268.0 398.1,254.3 403.7,254.3" fill="#fff"/>
<polygon points="372.7,297.5 392.0,294.7 392.0,300.3" fill="#fff"/>
<polygon points="462.5,323.0 465.3,341.0 459.7,341.0" fill="#fff"/>
<polygon points="423.7,361.2 440.6,358.4 440.6,364.0" fill="#fff"/>
<line x1="351.20" y1="359.00" x2="367.20" y2="359.00" stroke="#fff" stroke-width="1.8"/>
<text x="343.2" y="222.3" font-size="13.3" letter-spacing="0.45" fill="#f6f6f6" stroke="#f6f6f6" stroke-width="0.25">NB4 ATRA 5 d</text>
</g>
<clipPath id="clipI4"><rect x="27.3" y="371.2" width="153.7" height="164.4"/></clipPath>
<g clip-path="url(#clipI4)"><g filter="url(#soft)">
<rect x="27.30" y="371.20" width="153.70" height="164.40" fill="#6d6e6a"/>
<g opacity="1"><ellipse cx="57.8" cy="396.3" rx="6.8" ry="7.8" fill="#9a9c98"/><ellipse cx="58.8" cy="395.3" rx="6.5" ry="7.5" fill="#4a4c48"/><ellipse cx="58.3" cy="395.8" rx="5.3" ry="6.3" fill="#666864"/></g>
<g opacity="1"><ellipse cx="33.3" cy="438.2" rx="9.3" ry="10.8" fill="#9a9c98"/><ellipse cx="34.3" cy="437.2" rx="9.0" ry="10.5" fill="#4a4c48"/><ellipse cx="33.8" cy="437.7" rx="7.8" ry="9.3" fill="#666864"/></g>
<g opacity="1"><ellipse cx="92.8" cy="448.7" rx="8.3" ry="9.3" fill="#9a9c98"/><ellipse cx="93.8" cy="447.7" rx="8.0" ry="9.0" fill="#4a4c48"/><ellipse cx="93.3" cy="448.2" rx="6.8" ry="7.8" fill="#666864"/></g>
<g opacity="1"><ellipse cx="44.5" cy="467.7" rx="5.8" ry="5.8" fill="#9a9c98"/><ellipse cx="45.5" cy="466.7" rx="5.5" ry="5.5" fill="#4a4c48"/><ellipse cx="45.0" cy="467.2" rx="4.3" ry="4.3" fill="#666864"/></g>
<g opacity="1"><ellipse cx="55.8" cy="473.2" rx="6.8" ry="7.8" fill="#9a9c98"/><ellipse cx="56.8" cy="472.2" rx="6.5" ry="7.5" fill="#4a4c48"/><ellipse cx="56.3" cy="472.7" rx="5.3" ry="6.3" fill="#666864"/></g>
<g opacity="1"><ellipse cx="71.4" cy="468.7" rx="6.8" ry="8.3" fill="#9a9c98"/><ellipse cx="72.4" cy="467.7" rx="6.5" ry="8.0" fill="#4a4c48"/><ellipse cx="71.9" cy="468.2" rx="5.3" ry="6.8" fill="#666864"/></g>
<g opacity="1"><ellipse cx="152.8" cy="427.7" rx="7.6" ry="8.8" fill="#9a9c98"/><ellipse cx="153.8" cy="426.7" rx="7.3" ry="8.5" fill="#4a4c48"/><ellipse cx="153.3" cy="427.2" rx="6.1" ry="7.3" fill="#666864"/></g>
<g opacity="0.5"><ellipse cx="151.2" cy="376.1" rx="8.3" ry="8.3" fill="#9a9c98"/><ellipse cx="152.2" cy="375.1" rx="8.0" ry="8.0" fill="#4a4c48"/><ellipse cx="151.7" cy="375.6" rx="6.8" ry="6.8" fill="#666864"/></g>
<g opacity="0.5"><ellipse cx="172.8" cy="390.7" rx="6.8" ry="7.3" fill="#9a9c98"/><ellipse cx="173.8" cy="389.7" rx="6.5" ry="7.0" fill="#4a4c48"/><ellipse cx="173.3" cy="390.2" rx="5.3" ry="5.8" fill="#666864"/></g>
<g opacity="0.4"><ellipse cx="149.3" cy="442.7" rx="6.3" ry="6.3" fill="#9a9c98"/><ellipse cx="150.3" cy="441.7" rx="6.0" ry="6.0" fill="#4a4c48"/><ellipse cx="149.8" cy="442.2" rx="4.8" ry="4.8" fill="#666864"/></g>
<g opacity="1"><ellipse cx="93.8" cy="503.7" rx="6.3" ry="6.3" fill="#9a9c98"/><ellipse cx="94.8" cy="502.7" rx="6.0" ry="6.0" fill="#4a4c48"/><ellipse cx="94.3" cy="503.2" rx="4.8" ry="4.8" fill="#666864"/></g>
<g opacity="1"><ellipse cx="89.1" cy="518.7" rx="7.3" ry="8.3" fill="#9a9c98"/><ellipse cx="90.1" cy="517.7" rx="7.0" ry="8.0" fill="#4a4c48"/><ellipse cx="89.6" cy="518.2" rx="5.8" ry="6.8" fill="#666864"/></g>
<g opacity="1"><ellipse cx="142.3" cy="479.2" rx="8.8" ry="9.9" fill="#9a9c98"/><ellipse cx="143.3" cy="478.2" rx="8.5" ry="9.6" fill="#4a4c48"/><ellipse cx="142.8" cy="478.7" rx="7.3" ry="8.4" fill="#666864"/></g>
<g opacity="1"><ellipse cx="117.8" cy="501.7" rx="7.8" ry="7.3" fill="#9a9c98"/><ellipse cx="118.8" cy="500.7" rx="7.5" ry="7.0" fill="#4a4c48"/><ellipse cx="118.3" cy="501.2" rx="6.3" ry="5.8" fill="#666864"/></g>
<g opacity="1"><ellipse cx="122.6" cy="518.2" rx="7.6" ry="7.6" fill="#9a9c98"/><ellipse cx="123.6" cy="517.2" rx="7.3" ry="7.3" fill="#4a4c48"/><ellipse cx="123.1" cy="517.7" rx="6.1" ry="6.1" fill="#666864"/></g>
<g opacity="1"><ellipse cx="173.8" cy="514.7" rx="7.8" ry="9.3" fill="#9a9c98"/><ellipse cx="174.8" cy="513.7" rx="7.5" ry="9.0" fill="#4a4c48"/><ellipse cx="174.3" cy="514.2" rx="6.3" ry="7.8" fill="#666864"/></g>
<g opacity="1"><ellipse cx="143.3" cy="529.7" rx="6.8" ry="7.3" fill="#9a9c98"/><ellipse cx="144.3" cy="528.7" rx="6.5" ry="7.0" fill="#4a4c48"/><ellipse cx="143.8" cy="529.2" rx="5.3" ry="5.8" fill="#666864"/></g>
<g opacity="1"><ellipse cx="118.8" cy="532.7" rx="7.3" ry="7.3" fill="#9a9c98"/><ellipse cx="119.8" cy="531.7" rx="7.0" ry="7.0" fill="#4a4c48"/><ellipse cx="119.3" cy="532.2" rx="5.8" ry="5.8" fill="#666864"/></g>
<ellipse cx="34.3" cy="374.2" rx="10.0" ry="7.0" fill="url(#gr11)" opacity="0.9"/>
<ellipse cx="73.3" cy="405.2" rx="10.0" ry="12.0" fill="url(#gr18)" opacity="0.7"/>
<ellipse cx="85.3" cy="405.2" rx="14.0" ry="15.0" fill="url(#gr14)" opacity="0.35"/>
<ellipse cx="88.3" cy="403.2" rx="10.5" ry="12.5" fill="url(#gr3)" opacity="0.95"/>
<ellipse cx="68.8" cy="435.8" rx="5.5" ry="10.7" fill="url(#gr8)" opacity="0.9"/>
<ellipse cx="48.8" cy="454.2" rx="5.0" ry="5.0" fill="url(#gr11)" opacity="0.6"/>
<ellipse cx="144.5" cy="406.5" rx="11.7" ry="15.7" fill="#78b044" stroke="#96ea50" stroke-width="1.8" transform="rotate(30 144.5 406.5)"/>
<ellipse cx="143.3" cy="408.2" rx="6.0" ry="8.0" fill="url(#gr19)" opacity="0.6" transform="rotate(30 143.3 408.2)"/>
<ellipse cx="169.8" cy="445.2" rx="5.5" ry="7.5" fill="url(#gr8)" opacity="0.6"/>
<ellipse cx="164.8" cy="469.2" rx="13.5" ry="18.0" fill="url(#gr3)" opacity="0.92"/>
<ellipse cx="165.3" cy="460.2" rx="3.5" ry="4.0" fill="url(#gr7)" opacity="0.8"/>
<ellipse cx="40.8" cy="487.2" rx="11.5" ry="15.0" fill="url(#gr20)" opacity="0.97"/>
<ellipse cx="58.8" cy="505.7" rx="16.5" ry="19.5" fill="url(#gr20)" opacity="0.97"/>
<ellipse cx="49.3" cy="499.2" rx="10.0" ry="9.0" fill="url(#gr20)" opacity="0.9"/>
<ellipse cx="43.3" cy="514.2" rx="3.0" ry="3.0" fill="url(#gr11)" opacity="0.6"/>
<ellipse cx="114.3" cy="474.7" rx="5.5" ry="6.5" fill="url(#gr11)" opacity="0.8"/>
<ellipse cx="102.3" cy="511.2" rx="7.0" ry="10.0" fill="url(#gr9)" opacity="0.95"/>
<ellipse cx="103.3" cy="511.2" rx="4.0" ry="5.0" fill="url(#gr13)" opacity="0.95"/>
<ellipse cx="87.3" cy="532.2" rx="5.0" ry="5.0" fill="url(#gr14)" opacity="0.8"/>
<ellipse cx="99.3" cy="534.2" rx="5.0" ry="5.0" fill="url(#gr3)" opacity="0.7"/>
<ellipse cx="135.1" cy="511.2" rx="5.5" ry="6.0" fill="url(#gr21)" opacity="0.5"/>
</g>
<line x1="124.3" y1="402.7" x2="115.0" y2="402.7" stroke="#fff" stroke-width="2"/>
<polygon points="98.3,402.7 116.0,399.6 116.0,405.8" fill="#fff"/>
<line x1="165.1" y1="425.8" x2="165.1" y2="435.7" stroke="#fff" stroke-width="2"/>
<polygon points="165.1,452.7 162.0,434.7 168.2,434.7" fill="#fff"/>
<line x1="99.6" y1="495.5" x2="88.9" y2="495.5" stroke="#fff" stroke-width="2"/>
<polygon points="71.9,495.5 89.9,492.4 89.9,498.6" fill="#fff"/>
<polygon points="109.8,510.4 128.3,507.6 128.3,513.2" fill="#fff"/>
<text x="34.2" y="387.8" font-size="13.3" letter-spacing="0.45" fill="#f6f6f6" stroke="#f6f6f6" stroke-width="0.25">APL ATRA 1 d</text>
</g>
<clipPath id="clipI5"><rect x="184.2" y="371.2" width="154.0" height="164.4"/></clipPath>
<g clip-path="url(#clipI5)"><g filter="url(#soft)">
<rect x="184.20" y="371.20" width="154.00" height="164.40" fill="#5d5f59"/>
<g opacity="1"><ellipse cx="228.0" cy="410.0" rx="7.2" ry="10.7" fill="#8e908c"/><ellipse cx="228.0" cy="410.0" rx="6.9" ry="10.4" fill="#8e908c"/><ellipse cx="228.0" cy="410.0" rx="5.7" ry="9.2" fill="#4c4e4a"/></g>
<g opacity="1"><ellipse cx="259.7" cy="401.2" rx="6.8" ry="8.8" fill="#8e908c"/><ellipse cx="259.7" cy="401.2" rx="6.5" ry="8.5" fill="#8e908c"/><ellipse cx="259.7" cy="401.2" rx="5.3" ry="7.3" fill="#4c4e4a"/></g>
<g opacity="1"><ellipse cx="271.7" cy="397.7" rx="5.8" ry="7.8" fill="#8e908c"/><ellipse cx="271.7" cy="397.7" rx="5.5" ry="7.5" fill="#8e908c"/><ellipse cx="271.7" cy="397.7" rx="4.3" ry="6.3" fill="#4c4e4a"/></g>
<g opacity="0.4"><ellipse cx="244.2" cy="396.6" rx="5.3" ry="5.3" fill="#8e908c"/><ellipse cx="244.2" cy="396.6" rx="5.0" ry="5.0" fill="#8e908c"/><ellipse cx="244.2" cy="396.6" rx="3.8" ry="3.8" fill="#4c4e4a"/></g>
<g opacity="0.6"><ellipse cx="302.8" cy="376.2" rx="6.3" ry="6.3" fill="#8e908c"/><ellipse cx="302.8" cy="376.2" rx="6.0" ry="6.0" fill="#8e908c"/><ellipse cx="302.8" cy="376.2" rx="4.8" ry="4.8" fill="#4c4e4a"/></g>
<g opacity="0.6"><ellipse cx="309.7" cy="394.7" rx="7.3" ry="9.8" fill="#8e908c"/><ellipse cx="309.7" cy="394.7" rx="7.0" ry="9.5" fill="#8e908c"/><ellipse cx="309.7" cy="394.7" rx="5.8" ry="8.3" fill="#4c4e4a"/></g>
<g opacity="1"><ellipse cx="325.2" cy="409.7" rx="8.3" ry="11.0" fill="#8e908c"/><ellipse cx="325.2" cy="409.7" rx="8.0" ry="10.7" fill="#8e908c"/><ellipse cx="325.2" cy="409.7" rx="6.8" ry="9.5" fill="#4c4e4a"/></g>
<g opacity="1"><ellipse cx="334.2" cy="427.2" rx="5.3" ry="9.3" fill="#8e908c"/><ellipse cx="334.2" cy="427.2" rx="5.0" ry="9.0" fill="#8e908c"/><ellipse cx="334.2" cy="427.2" rx="3.8" ry="7.8" fill="#4c4e4a"/></g>
<g opacity="1"><ellipse cx="251.2" cy="500.2" rx="6.3" ry="10.3" fill="#8e908c"/><ellipse cx="251.2" cy="500.2" rx="6.0" ry="10.0" fill="#8e908c"/><ellipse cx="251.2" cy="500.2" rx="4.8" ry="8.8" fill="#4c4e4a"/></g>
<g opacity="1"><ellipse cx="263.2" cy="483.2" rx="5.3" ry="8.3" fill="#8e908c"/><ellipse cx="263.2" cy="483.2" rx="5.0" ry="8.0" fill="#8e908c"/><ellipse cx="263.2" cy="483.2" rx="3.8" ry="6.8" fill="#4c4e4a"/></g>
<g opacity="1"><ellipse cx="264.2" cy="482.7" rx="6.3" ry="8.8" fill="#8e908c"/><ellipse cx="264.2" cy="482.7" rx="6.0" ry="8.5" fill="#8e908c"/><ellipse cx="264.2" cy="482.7" rx="4.8" ry="7.3" fill="#4c4e4a"/></g>
<g opacity="1"><ellipse cx="286.7" cy="480.2" rx="6.3" ry="8.3" fill="#8e908c"/><ellipse cx="286.7" cy="480.2" rx="6.0" ry="8.0" fill="#8e908c"/><ellipse cx="286.7" cy="480.2" rx="4.8" ry="6.8" fill="#4c4e4a"/></g>
<g opacity="1"><ellipse cx="279.7" cy="508.5" rx="6.3" ry="7.6" fill="#8e908c"/><ellipse cx="279.7" cy="508.5" rx="6.0" ry="7.3" fill="#8e908c"/><ellipse cx="279.7" cy="508.5" rx="4.8" ry="6.1" fill="#4c4e4a"/></g>
<g opacity="1"><ellipse cx="330.2" cy="473.2" rx="7.6" ry="9.9" fill="#8e908c"/><ellipse cx="330.2" cy="473.2" rx="7.3" ry="9.6" fill="#8e908c"/><ellipse cx="330.2" cy="473.2" rx="6.1" ry="8.4" fill="#4c4e4a"/></g>
<g opacity="1"><ellipse cx="296.2" cy="531.2" rx="6.8" ry="6.8" fill="#8e908c"/><ellipse cx="296.2" cy="531.2" rx="6.5" ry="6.5" fill="#8e908c"/><ellipse cx="296.2" cy="531.2" rx="5.3" ry="5.3" fill="#4c4e4a"/></g>
<g opacity="0.4"><ellipse cx="314.2" cy="495.7" rx="4.3" ry="4.3" fill="#8e908c"/><ellipse cx="314.2" cy="495.7" rx="4.0" ry="4.0" fill="#8e908c"/><ellipse cx="314.2" cy="495.7" rx="2.8" ry="2.8" fill="#4c4e4a"/></g>
<g opacity="0.5"><ellipse cx="264.2" cy="376.2" rx="6.3" ry="6.3" fill="#8e908c"/><ellipse cx="264.2" cy="376.2" rx="6.0" ry="6.0" fill="#8e908c"/><ellipse cx="264.2" cy="376.2" rx="4.8" ry="4.8" fill="#4c4e4a"/></g>
<g opacity="0.4"><ellipse cx="189.2" cy="376.2" rx="6.3" ry="6.3" fill="#8e908c"/><ellipse cx="189.2" cy="376.2" rx="6.0" ry="6.0" fill="#8e908c"/><ellipse cx="189.2" cy="376.2" rx="4.8" ry="4.8" fill="#4c4e4a"/></g>
<ellipse cx="284.7" cy="381.2" rx="8.0" ry="13.0" fill="url(#gr22)" opacity="0.95"/>
<ellipse cx="318.2" cy="373.2" rx="6.0" ry="5.0" fill="url(#gr11)" opacity="0.8"/>
<ellipse cx="271.7" cy="399.2" rx="3.0" ry="4.0" fill="url(#gr11)" opacity="0.6"/>
<ellipse cx="325.2" cy="409.7" rx="5.0" ry="7.0" fill="url(#gr11)" opacity="0.7"/>
<ellipse cx="241.2" cy="442.2" rx="6.0" ry="9.3" fill="url(#gr11)" opacity="0.95"/>
<ellipse cx="251.9" cy="428.9" rx="5.0" ry="5.0" fill="url(#gr14)" opacity="0.6"/>
<ellipse cx="281.7" cy="442.2" rx="8.0" ry="8.5" fill="url(#gr23)" opacity="0.95"/>
<ellipse cx="293.2" cy="440.7" rx="8.0" ry="8.5" fill="url(#gr24)" opacity="0.95"/>
<ellipse cx="288.7" cy="449.2" rx="9.5" ry="9.0" fill="url(#gr25)" opacity="0.95"/>
<ellipse cx="294.2" cy="457.2" rx="8.0" ry="7.5" fill="url(#gr26)" opacity="0.95"/>
<ellipse cx="278.2" cy="450.2" rx="6.0" ry="6.0" fill="url(#gr27)" opacity="0.7"/>
<ellipse cx="324.2" cy="453.2" rx="11.0" ry="12.0" fill="url(#gr8)" opacity="0.95"/>
<ellipse cx="332.2" cy="431.2" rx="3.0" ry="3.0" fill="url(#gr11)" opacity="0.7"/>
<ellipse cx="195.2" cy="458.2" rx="9.0" ry="22.0" fill="url(#gr22)" opacity="0.9"/>
<ellipse cx="195.2" cy="446.2" rx="7.0" ry="8.0" fill="url(#gr28)" opacity="0.6"/>
<ellipse cx="199.6" cy="517.2" rx="6.0" ry="9.0" fill="url(#gr3)" opacity="0.5"/>
<ellipse cx="199.6" cy="517.2" rx="4.6" ry="7.5" fill="url(#gr9)" opacity="0.95"/>
<ellipse cx="236.2" cy="522.2" rx="5.0" ry="5.0" fill="url(#gr14)" opacity="0.4"/>
<ellipse cx="260.2" cy="525.2" rx="8.5" ry="9.5" fill="url(#gr8)" opacity="0.95"/>
<ellipse cx="261.2" cy="505.2" rx="5.0" ry="5.0" fill="url(#gr11)" opacity="0.6"/>
<ellipse cx="272.8" cy="474.2" rx="4.0" ry="4.0" fill="url(#gr14)" opacity="0.5"/>
<ellipse cx="267.2" cy="504.2" rx="6.0" ry="11.5" fill="url(#gr13)" opacity="0.9"/>
<ellipse cx="267.2" cy="499.2" rx="3.5" ry="4.0" fill="url(#gr7)" opacity="0.6"/>
<ellipse cx="271.2" cy="531.2" rx="5.5" ry="6.0" fill="url(#gr11)" opacity="0.95"/>
<ellipse cx="308.6" cy="530.2" rx="6.5" ry="6.5" fill="url(#gr8)" opacity="0.9"/>
<ellipse cx="308.6" cy="528.2" rx="3.5" ry="3.5" fill="url(#gr7)" opacity="0.6"/>
<ellipse cx="334.2" cy="501.2" rx="5.0" ry="9.0" fill="url(#gr7)" opacity="0.8"/>
<ellipse cx="334.2" cy="501.2" rx="3.0" ry="4.0" fill="url(#gr13)" opacity="0.7"/>
<ellipse cx="331.2" cy="521.2" rx="9.0" ry="11.5" fill="url(#gr29)" opacity="0.8"/>
<ellipse cx="324.2" cy="533.2" rx="5.0" ry="4.0" fill="url(#gr11)" opacity="0.5"/>
</g>
<line x1="320.5" y1="382.7" x2="309.8" y2="382.7" stroke="#fff" stroke-width="2"/>
<polygon points="292.8,382.7 310.8,379.6 310.8,385.8" fill="#fff"/>
<line x1="325.2" y1="420.2" x2="325.2" y2="428.2" stroke="#fff" stroke-width="2"/>
<polygon points="325.2,442.0 322.1,427.2 328.3,427.2" fill="#fff"/>
<line x1="199.6" y1="508.2" x2="199.6" y2="496.7" stroke="#fff" stroke-width="2"/>
<polygon points="199.6,479.7 202.7,497.7 196.5,497.7" fill="#fff"/>
<line x1="295.2" y1="521.2" x2="283.7" y2="521.2" stroke="#fff" stroke-width="2"/>
<polygon points="266.7,521.2 284.7,518.1 284.7,524.3" fill="#fff"/>
<polygon points="288.7,430.4 285.9,412.0 291.5,412.0" fill="#fff"/>
<text x="191.2" y="388.0" font-size="13.3" letter-spacing="0.45" fill="#f6f6f6" stroke="#f6f6f6" stroke-width="0.25">APL ATRA 3 d</text>
</g>
<clipPath id="clipI6"><rect x="341.2" y="371.2" width="152.8" height="164.4"/></clipPath>
<g clip-path="url(#clipI6)"><g filter="url(#soft)">
<rect x="341.20" y="371.20" width="152.80" height="164.40" fill="#6f6f6f"/>
<g opacity="1"><ellipse cx="367.8" cy="442.8" rx="11.1" ry="13.3" fill="#9c9c9c"/><ellipse cx="366.6" cy="443.6" rx="10.8" ry="13.0" fill="#3e3e3e"/><ellipse cx="367.2" cy="443.2" rx="9.6" ry="11.8" fill="#686868"/></g>
<g opacity="1"><ellipse cx="450.8" cy="374.8" rx="7.3" ry="7.3" fill="#9c9c9c"/><ellipse cx="449.6" cy="375.6" rx="7.0" ry="7.0" fill="#3e3e3e"/><ellipse cx="450.2" cy="375.2" rx="5.8" ry="5.8" fill="#686868"/></g>
<g opacity="1"><ellipse cx="450.4" cy="413.8" rx="8.0" ry="9.5" fill="#9c9c9c"/><ellipse cx="449.2" cy="414.6" rx="7.7" ry="9.2" fill="#3e3e3e"/><ellipse cx="449.8" cy="414.2" rx="6.5" ry="8.0" fill="#686868"/></g>
<g opacity="1"><ellipse cx="482.8" cy="389.2" rx="8.8" ry="8.8" fill="#9c9c9c"/><ellipse cx="481.6" cy="390.1" rx="8.5" ry="8.5" fill="#3e3e3e"/><ellipse cx="482.2" cy="389.7" rx="7.3" ry="7.3" fill="#686868"/></g>
<g opacity="1"><ellipse cx="341.8" cy="458.8" rx="7.3" ry="9.3" fill="#9c9c9c"/><ellipse cx="340.6" cy="459.6" rx="7.0" ry="9.0" fill="#3e3e3e"/><ellipse cx="341.2" cy="459.2" rx="5.8" ry="7.8" fill="#686868"/></g>
<g opacity="1"><ellipse cx="419.8" cy="498.8" rx="8.3" ry="11.8" fill="#9c9c9c"/><ellipse cx="418.6" cy="499.6" rx="8.0" ry="11.5" fill="#3e3e3e"/><ellipse cx="419.2" cy="499.2" rx="6.8" ry="10.3" fill="#686868"/></g>
<g opacity="0.4"><ellipse cx="398.8" cy="505.8" rx="6.3" ry="6.3" fill="#9c9c9c"/><ellipse cx="397.6" cy="506.6" rx="6.0" ry="6.0" fill="#3e3e3e"/><ellipse cx="398.2" cy="506.2" rx="4.8" ry="4.8" fill="#686868"/></g>
<g opacity="1"><ellipse cx="411.8" cy="528.8" rx="7.3" ry="7.3" fill="#9c9c9c"/><ellipse cx="410.6" cy="529.6" rx="7.0" ry="7.0" fill="#3e3e3e"/><ellipse cx="411.2" cy="529.2" rx="5.8" ry="5.8" fill="#686868"/></g>
<g opacity="1"><ellipse cx="470.8" cy="458.8" rx="4.3" ry="4.3" fill="#9c9c9c"/><ellipse cx="469.6" cy="459.6" rx="4.0" ry="4.0" fill="#3e3e3e"/><ellipse cx="470.2" cy="459.2" rx="2.8" ry="2.8" fill="#686868"/></g>
<g opacity="1"><ellipse cx="438.5" cy="501.4" rx="7.6" ry="9.5" fill="#9c9c9c"/><ellipse cx="437.3" cy="502.3" rx="7.3" ry="9.2" fill="#3e3e3e"/><ellipse cx="437.9" cy="501.9" rx="6.1" ry="8.0" fill="#686868"/></g>
<g opacity="1"><ellipse cx="428.8" cy="509.8" rx="7.3" ry="8.8" fill="#9c9c9c"/><ellipse cx="427.6" cy="510.6" rx="7.0" ry="8.5" fill="#3e3e3e"/><ellipse cx="428.2" cy="510.2" rx="5.8" ry="7.3" fill="#686868"/></g>
<g opacity="1"><ellipse cx="469.8" cy="526.8" rx="6.3" ry="6.3" fill="#9c9c9c"/><ellipse cx="468.6" cy="527.6" rx="6.0" ry="6.0" fill="#3e3e3e"/><ellipse cx="469.2" cy="527.2" rx="4.8" ry="4.8" fill="#686868"/></g>
<g opacity="0.5"><ellipse cx="341.8" cy="378.8" rx="5.3" ry="8.3" fill="#9c9c9c"/><ellipse cx="340.6" cy="379.6" rx="5.0" ry="8.0" fill="#3e3e3e"/><ellipse cx="341.2" cy="379.2" rx="3.8" ry="6.8" fill="#686868"/></g>
<ellipse cx="355.2" cy="376.2" rx="5.0" ry="5.0" fill="url(#gr3)" opacity="0.6"/>
<ellipse cx="417.2" cy="377.2" rx="5.0" ry="8.0" fill="url(#gr8)" opacity="0.5"/>
<ellipse cx="395.4" cy="403.5" rx="5.7" ry="7.7" fill="#6aa040" stroke="#8ee040" stroke-width="1.8"/>
<ellipse cx="382.2" cy="415.4" rx="5.7" ry="6.5" fill="#70b040" stroke="#8ee040" stroke-width="1.8"/>
<ellipse cx="375.8" cy="431.2" rx="4.6" ry="4.6" fill="url(#gr22)" opacity="0.9"/>
<ellipse cx="378.9" cy="449.2" rx="5.5" ry="7.0" fill="url(#gr14)" opacity="0.7"/>
<ellipse cx="413.2" cy="448.2" rx="6.5" ry="8.0" fill="url(#gr14)" opacity="0.8"/>
<ellipse cx="442.2" cy="387.2" rx="7.0" ry="7.0" fill="url(#gr14)" opacity="0.8"/>
<ellipse cx="442.2" cy="381.2" rx="6.0" ry="6.0" fill="url(#gr11)" opacity="0.5"/>
<ellipse cx="442.2" cy="389.2" rx="5.5" ry="5.5" fill="url(#gr13)" opacity="0.95"/>
<ellipse cx="424.7" cy="406.2" rx="7.5" ry="9.6" fill="url(#gr14)" opacity="0.85"/>
<ellipse cx="431.7" cy="438.5" rx="8.0" ry="8.0" fill="url(#gr9)" opacity="0.6"/>
<ellipse cx="431.7" cy="438.5" rx="6.5" ry="6.5" fill="url(#gr8)" opacity="0.85"/>
<ellipse cx="477.2" cy="374.2" rx="4.0" ry="4.0" fill="url(#gr30)" opacity="0.8"/>
<ellipse cx="491.2" cy="394.2" rx="3.0" ry="6.0" fill="url(#gr31)" opacity="0.7"/>
<ellipse cx="486.2" cy="407.2" rx="6.5" ry="9.2" fill="url(#gr14)" opacity="0.85"/>
<ellipse cx="483.2" cy="448.2" rx="7.0" ry="10.0" fill="url(#gr14)" opacity="0.7"/>
<ellipse cx="483.2" cy="451.2" rx="5.5" ry="6.5" fill="url(#gr13)" opacity="0.9"/>
<ellipse cx="357.7" cy="470.2" rx="8.0" ry="9.2" fill="#6a9a48" stroke="#8ee040" stroke-width="1.8"/>
<ellipse cx="375.2" cy="482.9" rx="7.3" ry="9.6" fill="url(#gr11)" opacity="0.95"/>
<ellipse cx="374.2" cy="479.2" rx="5.0" ry="5.0" fill="url(#gr7)" opacity="0.9"/>
<ellipse cx="395.2" cy="478.2" rx="5.4" ry="7.7" fill="#6a9a48" stroke="#7ed23c" stroke-width="1.8"/>
<ellipse cx="375.2" cy="503.2" rx="8.8" ry="9.6" fill="url(#gr14)" opacity="0.8"/>
<ellipse cx="375.2" cy="503.2" rx="6.5" ry="7.0" fill="url(#gr32)" opacity="0.9"/>
<ellipse cx="412.7" cy="464.2" rx="5.0" ry="5.0" fill="url(#gr13)" opacity="0.95"/>
<ellipse cx="352.2" cy="522.2" rx="5.0" ry="7.0" fill="url(#gr11)" opacity="1"/>
<ellipse cx="378.2" cy="522.2" rx="7.0" ry="7.3" fill="url(#gr14)" opacity="0.8"/>
<ellipse cx="378.2" cy="522.2" rx="4.0" ry="4.0" fill="url(#gr8)" opacity="0.8"/>
<ellipse cx="436.0" cy="478.9" rx="7.0" ry="7.7" fill="url(#gr11)" opacity="0.95"/>
<ellipse cx="437.9" cy="502.2" rx="4.0" ry="5.0" fill="url(#gr33)" opacity="0.6"/>
<ellipse cx="473.2" cy="508.2" rx="9.4" ry="10.4" fill="url(#gr32)" opacity="0.95"/>
<ellipse cx="481.2" cy="527.2" rx="7.0" ry="8.0" fill="url(#gr3)" opacity="0.9"/>
<ellipse cx="481.2" cy="524.2" rx="3.0" ry="3.0" fill="url(#gr9)" opacity="0.5"/>
<ellipse cx="436.2" cy="526.2" rx="6.2" ry="9.0" fill="url(#gr11)" opacity="0.85"/>
<ellipse cx="436.2" cy="524.2" rx="3.5" ry="4.0" fill="url(#gr8)" opacity="0.8"/>
<ellipse cx="371.2" cy="534.2" rx="4.0" ry="3.0" fill="url(#gr11)" opacity="0.6"/>
</g>
<line x1="404.2" y1="434.0" x2="394.9" y2="434.0" stroke="#fff" stroke-width="2"/>
<polygon points="378.2,434.0 395.9,430.9 395.9,437.1" fill="#fff"/>
<line x1="430.2" y1="409.7" x2="430.2" y2="417.8" stroke="#fff" stroke-width="2"/>
<polygon points="430.2,432.0 427.1,416.8 433.3,416.8" fill="#fff"/>
<line x1="380.2" y1="452.2" x2="380.2" y2="461.5" stroke="#fff" stroke-width="2"/>
<polygon points="380.2,478.2 377.1,460.5 383.3,460.5" fill="#fff"/>
<line x1="411.2" y1="495.0" x2="411.2" y2="485.6" stroke="#fff" stroke-width="2"/>
<polygon points="411.2,468.9 414.3,486.6 408.1,486.6" fill="#fff"/>
<line x1="440.6" y1="513.0" x2="451.2" y2="513.0" stroke="#fff" stroke-width="2"/>
<polygon points="468.2,513.0 450.2,516.1 450.2,509.9" fill="#fff"/>
<line x1="450.6" y1="529.2" x2="460.0" y2="529.2" stroke="#fff" stroke-width="2"/>
<polygon points="476.7,529.2 459.0,532.3 459.0,526.1" fill="#fff"/>
<text x="343.8" y="385.9" font-size="13.3" letter-spacing="0.45" fill="#f6f6f6" stroke="#f6f6f6" stroke-width="0.25">APL ATRA 5 d</text>
</g>
<text x="7.60" y="558.60" font-size="11" text-anchor="start" fill="#111" font-weight="bold" >D</text>
<line x1="45.10" y1="669.50" x2="48.30" y2="669.50" stroke="#1a1a1a" stroke-width="1.2"/>
<text x="42.80" y="672.20" font-size="7.6" text-anchor="end" fill="#222" font-weight="normal" stroke="#222" stroke-width="0.22" >0</text>
<line x1="45.10" y1="650.64" x2="48.30" y2="650.64" stroke="#1a1a1a" stroke-width="1.2"/>
<text x="42.80" y="653.34" font-size="7.6" text-anchor="end" fill="#222" font-weight="normal" stroke="#222" stroke-width="0.22" >2</text>
<line x1="45.10" y1="631.78" x2="48.30" y2="631.78" stroke="#1a1a1a" stroke-width="1.2"/>
<text x="42.80" y="634.48" font-size="7.6" text-anchor="end" fill="#222" font-weight="normal" stroke="#222" stroke-width="0.22" >4</text>
<line x1="45.10" y1="612.92" x2="48.30" y2="612.92" stroke="#1a1a1a" stroke-width="1.2"/>
<text x="42.80" y="615.62" font-size="7.6" text-anchor="end" fill="#222" font-weight="normal" stroke="#222" stroke-width="0.22" >6</text>
<line x1="45.10" y1="594.06" x2="48.30" y2="594.06" stroke="#1a1a1a" stroke-width="1.2"/>
<text x="42.80" y="596.76" font-size="7.6" text-anchor="end" fill="#222" font-weight="normal" stroke="#222" stroke-width="0.22" >8</text>
<line x1="45.10" y1="575.20" x2="48.30" y2="575.20" stroke="#1a1a1a" stroke-width="1.2"/>
<text x="42.80" y="577.90" font-size="7.6" text-anchor="end" fill="#222" font-weight="normal" stroke="#222" stroke-width="0.22" >10</text>
<text transform="translate(28.00,622.00) rotate(-90)" font-size="9.1" text-anchor="middle" fill="#222" stroke="#222" stroke-width="0.2">TAT complexes levels(ng/mL)</text>
<rect x="55.00" y="576.00" width="9.00" height="5.10" fill="#be0a2c"/>
<text x="67.20" y="581.10" font-size="7.4" text-anchor="start" fill="#222" font-weight="normal" stroke="#222" stroke-width="0.22" >NB4+PBS</text>
<rect x="55.00" y="584.85" width="9.00" height="5.10" fill="#2b5290"/>
<text x="67.20" y="589.95" font-size="7.4" text-anchor="start" fill="#222" font-weight="normal" stroke="#222" stroke-width="0.22" >NB4+ATRA</text>
<rect x="55.00" y="593.70" width="9.00" height="5.10" fill="#6caf48"/>
<text x="67.20" y="598.80" font-size="7.4" text-anchor="start" fill="#222" font-weight="normal" stroke="#222" stroke-width="0.22" >APL+PBS</text>
<rect x="55.00" y="602.55" width="9.00" height="5.10" fill="#5b2670"/>
<text x="67.20" y="607.65" font-size="7.4" text-anchor="start" fill="#222" font-weight="normal" stroke="#222" stroke-width="0.22" >APL+ATRA</text>
<rect x="51.90" y="645.80" width="6.85" height="23.70" fill="#be0a2c"/>
<line x1="55.32" y1="645.80" x2="55.32" y2="643.40" stroke="#1a1a1a" stroke-width="1.1"/>
<line x1="53.22" y1="643.40" x2="57.42" y2="643.40" stroke="#1a1a1a" stroke-width="1.1"/>
<rect x="58.75" y="646.60" width="6.85" height="22.90" fill="#2b5290"/>
<line x1="62.17" y1="646.60" x2="62.17" y2="644.30" stroke="#1a1a1a" stroke-width="1.1"/>
<line x1="60.07" y1="644.30" x2="64.27" y2="644.30" stroke="#1a1a1a" stroke-width="1.1"/>
<rect x="65.60" y="648.00" width="6.85" height="21.50" fill="#6caf48"/>
<line x1="69.02" y1="648.00" x2="69.02" y2="644.30" stroke="#1a1a1a" stroke-width="1.1"/>
<line x1="66.92" y1="644.30" x2="71.12" y2="644.30" stroke="#1a1a1a" stroke-width="1.1"/>
<rect x="72.45" y="647.40" width="6.85" height="22.10" fill="#5b2670"/>
<line x1="75.87" y1="647.40" x2="75.87" y2="643.50" stroke="#1a1a1a" stroke-width="1.1"/>
<line x1="73.77" y1="643.50" x2="77.97" y2="643.50" stroke="#1a1a1a" stroke-width="1.1"/>
<line x1="65.60" y1="669.50" x2="65.60" y2="672.50" stroke="#1a1a1a" stroke-width="1.1"/>
<text x="65.60" y="681.90" font-size="7.9" text-anchor="middle" fill="#222" font-weight="normal" stroke="#222" stroke-width="0.22" >0 d</text>
<rect x="86.20" y="643.40" width="6.85" height="26.10" fill="#be0a2c"/>
<line x1="89.62" y1="643.40" x2="89.62" y2="636.20" stroke="#1a1a1a" stroke-width="1.1"/>
<line x1="87.53" y1="636.20" x2="91.72" y2="636.20" stroke="#1a1a1a" stroke-width="1.1"/>
<rect x="93.05" y="631.20" width="6.85" height="38.30" fill="#2b5290"/>
<line x1="96.47" y1="631.20" x2="96.47" y2="624.20" stroke="#1a1a1a" stroke-width="1.1"/>
<line x1="94.38" y1="624.20" x2="98.57" y2="624.20" stroke="#1a1a1a" stroke-width="1.1"/>
<rect x="99.90" y="638.80" width="6.85" height="30.70" fill="#6caf48"/>
<line x1="103.33" y1="638.80" x2="103.33" y2="633.00" stroke="#1a1a1a" stroke-width="1.1"/>
<line x1="101.23" y1="633.00" x2="105.42" y2="633.00" stroke="#1a1a1a" stroke-width="1.1"/>
<rect x="106.75" y="626.20" width="6.85" height="43.30" fill="#5b2670"/>
<line x1="110.17" y1="626.20" x2="110.17" y2="620.30" stroke="#1a1a1a" stroke-width="1.1"/>
<line x1="108.08" y1="620.30" x2="112.27" y2="620.30" stroke="#1a1a1a" stroke-width="1.1"/>
<line x1="99.90" y1="669.50" x2="99.90" y2="672.50" stroke="#1a1a1a" stroke-width="1.1"/>
<text x="99.90" y="681.90" font-size="7.9" text-anchor="middle" fill="#222" font-weight="normal" stroke="#222" stroke-width="0.22" >1 d</text>
<rect x="120.70" y="637.60" width="6.85" height="31.90" fill="#be0a2c"/>
<line x1="124.12" y1="637.60" x2="124.12" y2="633.40" stroke="#1a1a1a" stroke-width="1.1"/>
<line x1="122.03" y1="633.40" x2="126.22" y2="633.40" stroke="#1a1a1a" stroke-width="1.1"/>
<rect x="127.55" y="610.80" width="6.85" height="58.70" fill="#2b5290"/>
<line x1="130.97" y1="610.80" x2="130.97" y2="606.20" stroke="#1a1a1a" stroke-width="1.1"/>
<line x1="128.88" y1="606.20" x2="133.07" y2="606.20" stroke="#1a1a1a" stroke-width="1.1"/>
<rect x="134.40" y="634.00" width="6.85" height="35.50" fill="#6caf48"/>
<line x1="137.83" y1="634.00" x2="137.83" y2="626.50" stroke="#1a1a1a" stroke-width="1.1"/>
<line x1="135.73" y1="626.50" x2="139.93" y2="626.50" stroke="#1a1a1a" stroke-width="1.1"/>
<rect x="141.25" y="602.10" width="6.85" height="67.40" fill="#5b2670"/>
<line x1="144.68" y1="602.10" x2="144.68" y2="596.00" stroke="#1a1a1a" stroke-width="1.1"/>
<line x1="142.58" y1="596.00" x2="146.78" y2="596.00" stroke="#1a1a1a" stroke-width="1.1"/>
<line x1="134.40" y1="669.50" x2="134.40" y2="672.50" stroke="#1a1a1a" stroke-width="1.1"/>
<text x="134.40" y="681.90" font-size="7.9" text-anchor="middle" fill="#222" font-weight="normal" stroke="#222" stroke-width="0.22" >3 d</text>
<rect x="155.30" y="615.30" width="6.85" height="54.20" fill="#be0a2c"/>
<line x1="158.73" y1="615.30" x2="158.73" y2="612.20" stroke="#1a1a1a" stroke-width="1.1"/>
<line x1="156.63" y1="612.20" x2="160.83" y2="612.20" stroke="#1a1a1a" stroke-width="1.1"/>
<rect x="162.15" y="594.40" width="6.85" height="75.10" fill="#2b5290"/>
<line x1="165.58" y1="594.40" x2="165.58" y2="587.20" stroke="#1a1a1a" stroke-width="1.1"/>
<line x1="163.48" y1="587.20" x2="167.68" y2="587.20" stroke="#1a1a1a" stroke-width="1.1"/>
<rect x="169.00" y="608.00" width="6.85" height="61.50" fill="#6caf48"/>
<line x1="172.43" y1="608.00" x2="172.43" y2="599.20" stroke="#1a1a1a" stroke-width="1.1"/>
<line x1="170.33" y1="599.20" x2="174.53" y2="599.20" stroke="#1a1a1a" stroke-width="1.1"/>
<rect x="175.85" y="586.80" width="6.85" height="82.70" fill="#5b2670"/>
<line x1="179.28" y1="586.80" x2="179.28" y2="580.00" stroke="#1a1a1a" stroke-width="1.1"/>
<line x1="177.18" y1="580.00" x2="181.38" y2="580.00" stroke="#1a1a1a" stroke-width="1.1"/>
<line x1="169.00" y1="669.50" x2="169.00" y2="672.50" stroke="#1a1a1a" stroke-width="1.1"/>
<text x="169.00" y="681.90" font-size="7.9" text-anchor="middle" fill="#222" font-weight="normal" stroke="#222" stroke-width="0.22" >5 d</text>
<line x1="48.30" y1="572.50" x2="48.30" y2="670.10" stroke="#1a1a1a" stroke-width="1.3"/>
<line x1="47.70" y1="669.50" x2="186.00" y2="669.50" stroke="#1a1a1a" stroke-width="1.3"/>
<line x1="122.60" y1="604.90" x2="131.80" y2="604.90" stroke="#1a1a1a" stroke-width="1.2"/>
<circle cx="125.80" cy="600.70" r="1.00" fill="#222"/>
<circle cx="128.60" cy="600.70" r="1.00" fill="#222"/>
<line x1="137.40" y1="593.80" x2="146.00" y2="593.80" stroke="#1a1a1a" stroke-width="1.2"/>
<circle cx="140.30" cy="589.60" r="1.00" fill="#222"/>
<circle cx="143.10" cy="589.60" r="1.00" fill="#222"/>
<line x1="157.00" y1="584.40" x2="165.50" y2="584.40" stroke="#1a1a1a" stroke-width="1.2"/>
<circle cx="159.90" cy="580.30" r="1.00" fill="#222"/>
<circle cx="162.70" cy="580.30" r="1.00" fill="#222"/>
<line x1="171.50" y1="577.60" x2="179.90" y2="577.60" stroke="#1a1a1a" stroke-width="1.2"/>
<circle cx="174.30" cy="573.20" r="1.00" fill="#222"/>
<circle cx="177.10" cy="573.20" r="1.00" fill="#222"/>
<text x="199.60" y="559.20" font-size="11" text-anchor="start" fill="#111" font-weight="bold" >E</text>
<text transform="translate(218.80,622.80) rotate(-90)" font-size="9.2" text-anchor="middle" fill="#222" stroke="#222" stroke-width="0.2">TAT complexes levels(ng/mL)</text>
<line x1="229.10" y1="668.00" x2="232.30" y2="668.00" stroke="#1a1a1a" stroke-width="1.2"/>
<text x="227.00" y="670.70" font-size="7.6" text-anchor="end" fill="#222" font-weight="normal" stroke="#222" stroke-width="0.22" >0</text>
<line x1="229.10" y1="649.22" x2="232.30" y2="649.22" stroke="#1a1a1a" stroke-width="1.2"/>
<text x="227.00" y="651.92" font-size="7.6" text-anchor="end" fill="#222" font-weight="normal" stroke="#222" stroke-width="0.22" >2</text>
<line x1="229.10" y1="630.44" x2="232.30" y2="630.44" stroke="#1a1a1a" stroke-width="1.2"/>
<text x="227.00" y="633.14" font-size="7.6" text-anchor="end" fill="#222" font-weight="normal" stroke="#222" stroke-width="0.22" >4</text>
<line x1="229.10" y1="611.66" x2="232.30" y2="611.66" stroke="#1a1a1a" stroke-width="1.2"/>
<text x="227.00" y="614.36" font-size="7.6" text-anchor="end" fill="#222" font-weight="normal" stroke="#222" stroke-width="0.22" >6</text>
<line x1="229.10" y1="592.88" x2="232.30" y2="592.88" stroke="#1a1a1a" stroke-width="1.2"/>
<text x="227.00" y="595.58" font-size="7.6" text-anchor="end" fill="#222" font-weight="normal" stroke="#222" stroke-width="0.22" >8</text>
<rect x="239.40" y="577.00" width="9.60" height="5.20" fill="#be0a2c"/>
<text x="252.40" y="582.20" font-size="7.4" text-anchor="start" fill="#222" font-weight="normal" stroke="#222" stroke-width="0.22" >ATRA</text>
<rect x="239.40" y="586.50" width="9.60" height="5.20" fill="#6caf48"/>
<text x="252.40" y="591.70" font-size="7.4" text-anchor="start" fill="#222" font-weight="normal" stroke="#222" stroke-width="0.22" >DNase</text>
<rect x="239.40" y="596.00" width="9.60" height="5.20" fill="#5b2670"/>
<text x="252.40" y="601.20" font-size="7.4" text-anchor="start" fill="#222" font-weight="normal" stroke="#222" stroke-width="0.22" >anti-TF</text>
<rect x="236.90" y="644.00" width="8.15" height="24.00" fill="#be0a2c"/>
<line x1="240.97" y1="644.00" x2="240.97" y2="642.00" stroke="#1a1a1a" stroke-width="1.1"/>
<line x1="238.67" y1="642.00" x2="243.28" y2="642.00" stroke="#1a1a1a" stroke-width="1.1"/>
<rect x="245.05" y="639.00" width="8.15" height="29.00" fill="#6caf48"/>
<line x1="249.12" y1="639.00" x2="249.12" y2="631.40" stroke="#1a1a1a" stroke-width="1.1"/>
<line x1="246.82" y1="631.40" x2="251.43" y2="631.40" stroke="#1a1a1a" stroke-width="1.1"/>
<rect x="253.20" y="643.00" width="8.15" height="25.00" fill="#5b2670"/>
<line x1="257.28" y1="643.00" x2="257.28" y2="637.80" stroke="#1a1a1a" stroke-width="1.1"/>
<line x1="254.98" y1="637.80" x2="259.58" y2="637.80" stroke="#1a1a1a" stroke-width="1.1"/>
<line x1="249.12" y1="668.00" x2="249.12" y2="671.00" stroke="#1a1a1a" stroke-width="1.1"/>
<text x="249.12" y="680.20" font-size="8.0" text-anchor="middle" fill="#222" font-weight="normal" stroke="#222" stroke-width="0.22" >0 d</text>
<rect x="269.20" y="629.20" width="8.15" height="38.80" fill="#be0a2c"/>
<line x1="273.27" y1="629.20" x2="273.27" y2="621.50" stroke="#1a1a1a" stroke-width="1.1"/>
<line x1="270.97" y1="621.50" x2="275.57" y2="621.50" stroke="#1a1a1a" stroke-width="1.1"/>
<rect x="277.35" y="636.90" width="8.15" height="31.10" fill="#6caf48"/>
<line x1="281.42" y1="636.90" x2="281.42" y2="632.30" stroke="#1a1a1a" stroke-width="1.1"/>
<line x1="279.12" y1="632.30" x2="283.72" y2="632.30" stroke="#1a1a1a" stroke-width="1.1"/>
<rect x="285.50" y="634.50" width="8.15" height="33.50" fill="#5b2670"/>
<line x1="289.57" y1="634.50" x2="289.57" y2="628.30" stroke="#1a1a1a" stroke-width="1.1"/>
<line x1="287.27" y1="628.30" x2="291.88" y2="628.30" stroke="#1a1a1a" stroke-width="1.1"/>
<line x1="281.43" y1="668.00" x2="281.43" y2="671.00" stroke="#1a1a1a" stroke-width="1.1"/>
<text x="281.43" y="680.20" font-size="8.0" text-anchor="middle" fill="#222" font-weight="normal" stroke="#222" stroke-width="0.22" >1 d</text>
<rect x="302.20" y="608.80" width="8.15" height="59.20" fill="#be0a2c"/>
<line x1="306.27" y1="608.80" x2="306.27" y2="604.30" stroke="#1a1a1a" stroke-width="1.1"/>
<line x1="303.97" y1="604.30" x2="308.57" y2="604.30" stroke="#1a1a1a" stroke-width="1.1"/>
<rect x="310.35" y="629.20" width="8.15" height="38.80" fill="#6caf48"/>
<line x1="314.42" y1="629.20" x2="314.42" y2="622.80" stroke="#1a1a1a" stroke-width="1.1"/>
<line x1="312.12" y1="622.80" x2="316.72" y2="622.80" stroke="#1a1a1a" stroke-width="1.1"/>
<rect x="318.50" y="612.80" width="8.15" height="55.20" fill="#5b2670"/>
<line x1="322.57" y1="612.80" x2="322.57" y2="608.80" stroke="#1a1a1a" stroke-width="1.1"/>
<line x1="320.27" y1="608.80" x2="324.88" y2="608.80" stroke="#1a1a1a" stroke-width="1.1"/>
<line x1="314.43" y1="668.00" x2="314.43" y2="671.00" stroke="#1a1a1a" stroke-width="1.1"/>
<text x="314.43" y="680.20" font-size="8.0" text-anchor="middle" fill="#222" font-weight="normal" stroke="#222" stroke-width="0.22" >3 d</text>
<rect x="334.60" y="591.90" width="8.15" height="76.10" fill="#be0a2c"/>
<line x1="338.68" y1="591.90" x2="338.68" y2="584.50" stroke="#1a1a1a" stroke-width="1.1"/>
<line x1="336.38" y1="584.50" x2="340.98" y2="584.50" stroke="#1a1a1a" stroke-width="1.1"/>
<rect x="342.75" y="627.20" width="8.15" height="40.80" fill="#6caf48"/>
<line x1="346.82" y1="627.20" x2="346.82" y2="622.50" stroke="#1a1a1a" stroke-width="1.1"/>
<line x1="344.52" y1="622.50" x2="349.12" y2="622.50" stroke="#1a1a1a" stroke-width="1.1"/>
<rect x="350.90" y="594.20" width="8.15" height="73.80" fill="#5b2670"/>
<line x1="354.98" y1="594.20" x2="354.98" y2="591.30" stroke="#1a1a1a" stroke-width="1.1"/>
<line x1="352.68" y1="591.30" x2="357.28" y2="591.30" stroke="#1a1a1a" stroke-width="1.1"/>
<line x1="346.83" y1="668.00" x2="346.83" y2="671.00" stroke="#1a1a1a" stroke-width="1.1"/>
<text x="346.83" y="680.20" font-size="8.0" text-anchor="middle" fill="#222" font-weight="normal" stroke="#222" stroke-width="0.22" >5 d</text>
<line x1="232.30" y1="577.50" x2="232.30" y2="668.60" stroke="#1a1a1a" stroke-width="1.3"/>
<line x1="231.70" y1="668.00" x2="362.00" y2="668.00" stroke="#1a1a1a" stroke-width="1.3"/>
<text x="298.80" y="693.60" font-size="8.8" text-anchor="middle" fill="#222" font-weight="normal" stroke="#222" stroke-width="0.22" >NB4</text>
<circle cx="304.70" cy="599.80" r="1.00" fill="#222"/>
<circle cx="307.50" cy="599.80" r="1.00" fill="#222"/>
<text x="314.20" y="620.60" font-size="6.8" text-anchor="middle" fill="#555" font-weight="normal" stroke="#555" stroke-width="0.1" font-style="italic">##</text>
<circle cx="337.00" cy="580.20" r="1.00" fill="#222"/>
<circle cx="339.80" cy="580.20" r="1.00" fill="#222"/>
<text x="346.50" y="620.20" font-size="6.8" text-anchor="middle" fill="#555" font-weight="normal" stroke="#555" stroke-width="0.1" font-style="italic">##</text>
<line x1="379.90" y1="668.00" x2="383.10" y2="668.00" stroke="#1a1a1a" stroke-width="1.2"/>
<text x="378.00" y="670.70" font-size="7.6" text-anchor="end" fill="#222" font-weight="normal" stroke="#222" stroke-width="0.22" >0</text>
<line x1="379.90" y1="650.10" x2="383.10" y2="650.10" stroke="#1a1a1a" stroke-width="1.2"/>
<text x="378.00" y="652.80" font-size="7.6" text-anchor="end" fill="#222" font-weight="normal" stroke="#222" stroke-width="0.22" >2</text>
<line x1="379.90" y1="632.20" x2="383.10" y2="632.20" stroke="#1a1a1a" stroke-width="1.2"/>
<text x="378.00" y="634.90" font-size="7.6" text-anchor="end" fill="#222" font-weight="normal" stroke="#222" stroke-width="0.22" >4</text>
<line x1="379.90" y1="614.30" x2="383.10" y2="614.30" stroke="#1a1a1a" stroke-width="1.2"/>
<text x="378.00" y="617.00" font-size="7.6" text-anchor="end" fill="#222" font-weight="normal" stroke="#222" stroke-width="0.22" >6</text>
<line x1="379.90" y1="596.40" x2="383.10" y2="596.40" stroke="#1a1a1a" stroke-width="1.2"/>
<text x="378.00" y="599.10" font-size="7.6" text-anchor="end" fill="#222" font-weight="normal" stroke="#222" stroke-width="0.22" >8</text>
<line x1="379.90" y1="578.50" x2="383.10" y2="578.50" stroke="#1a1a1a" stroke-width="1.2"/>
<text x="378.00" y="581.20" font-size="7.6" text-anchor="end" fill="#222" font-weight="normal" stroke="#222" stroke-width="0.22" >10</text>
<rect x="389.20" y="577.00" width="9.60" height="5.20" fill="#be0a2c"/>
<text x="402.20" y="582.20" font-size="7.4" text-anchor="start" fill="#222" font-weight="normal" stroke="#222" stroke-width="0.22" >ATRA</text>
<rect x="389.20" y="586.50" width="9.60" height="5.20" fill="#6caf48"/>
<text x="402.20" y="591.70" font-size="7.4" text-anchor="start" fill="#222" font-weight="normal" stroke="#222" stroke-width="0.22" >DNase</text>
<rect x="389.20" y="596.00" width="9.60" height="5.20" fill="#5b2670"/>
<text x="402.20" y="601.20" font-size="7.4" text-anchor="start" fill="#222" font-weight="normal" stroke="#222" stroke-width="0.22" >anti-TF</text>
<rect x="386.20" y="647.00" width="8.15" height="21.00" fill="#be0a2c"/>
<line x1="390.27" y1="647.00" x2="390.27" y2="643.00" stroke="#1a1a1a" stroke-width="1.1"/>
<line x1="387.97" y1="643.00" x2="392.57" y2="643.00" stroke="#1a1a1a" stroke-width="1.1"/>
<rect x="394.35" y="640.00" width="8.15" height="28.00" fill="#6caf48"/>
<line x1="398.42" y1="640.00" x2="398.42" y2="633.80" stroke="#1a1a1a" stroke-width="1.1"/>
<line x1="396.12" y1="633.80" x2="400.72" y2="633.80" stroke="#1a1a1a" stroke-width="1.1"/>
<rect x="402.50" y="643.00" width="8.15" height="25.00" fill="#5b2670"/>
<line x1="406.57" y1="643.00" x2="406.57" y2="637.80" stroke="#1a1a1a" stroke-width="1.1"/>
<line x1="404.27" y1="637.80" x2="408.88" y2="637.80" stroke="#1a1a1a" stroke-width="1.1"/>
<line x1="398.43" y1="668.00" x2="398.43" y2="671.00" stroke="#1a1a1a" stroke-width="1.1"/>
<text x="398.43" y="680.20" font-size="8.0" text-anchor="middle" fill="#222" font-weight="normal" stroke="#222" stroke-width="0.22" >0 d</text>
<rect x="418.50" y="627.00" width="8.15" height="41.00" fill="#be0a2c"/>
<line x1="422.57" y1="627.00" x2="422.57" y2="621.00" stroke="#1a1a1a" stroke-width="1.1"/>
<line x1="420.27" y1="621.00" x2="424.88" y2="621.00" stroke="#1a1a1a" stroke-width="1.1"/>
<rect x="426.65" y="637.80" width="8.15" height="30.20" fill="#6caf48"/>
<line x1="430.72" y1="637.80" x2="430.72" y2="632.30" stroke="#1a1a1a" stroke-width="1.1"/>
<line x1="428.42" y1="632.30" x2="433.02" y2="632.30" stroke="#1a1a1a" stroke-width="1.1"/>
<rect x="434.80" y="627.70" width="8.15" height="40.30" fill="#5b2670"/>
<line x1="438.88" y1="627.70" x2="438.88" y2="621.50" stroke="#1a1a1a" stroke-width="1.1"/>
<line x1="436.57" y1="621.50" x2="441.18" y2="621.50" stroke="#1a1a1a" stroke-width="1.1"/>
<line x1="430.73" y1="668.00" x2="430.73" y2="671.00" stroke="#1a1a1a" stroke-width="1.1"/>
<text x="430.73" y="680.20" font-size="8.0" text-anchor="middle" fill="#222" font-weight="normal" stroke="#222" stroke-width="0.22" >1 d</text>
<rect x="451.70" y="604.00" width="8.15" height="64.00" fill="#be0a2c"/>
<line x1="455.77" y1="604.00" x2="455.77" y2="599.00" stroke="#1a1a1a" stroke-width="1.1"/>
<line x1="453.47" y1="599.00" x2="458.07" y2="599.00" stroke="#1a1a1a" stroke-width="1.1"/>
<rect x="459.85" y="631.40" width="8.15" height="36.60" fill="#6caf48"/>
<line x1="463.92" y1="631.40" x2="463.92" y2="625.50" stroke="#1a1a1a" stroke-width="1.1"/>
<line x1="461.62" y1="625.50" x2="466.22" y2="625.50" stroke="#1a1a1a" stroke-width="1.1"/>
<rect x="468.00" y="607.70" width="8.15" height="60.30" fill="#5b2670"/>
<line x1="472.07" y1="607.70" x2="472.07" y2="602.50" stroke="#1a1a1a" stroke-width="1.1"/>
<line x1="469.77" y1="602.50" x2="474.38" y2="602.50" stroke="#1a1a1a" stroke-width="1.1"/>
<line x1="463.93" y1="668.00" x2="463.93" y2="671.00" stroke="#1a1a1a" stroke-width="1.1"/>
<text x="463.93" y="680.20" font-size="8.0" text-anchor="middle" fill="#222" font-weight="normal" stroke="#222" stroke-width="0.22" >3 d</text>
<rect x="483.70" y="589.80" width="8.15" height="78.20" fill="#be0a2c"/>
<line x1="487.77" y1="589.80" x2="487.77" y2="583.00" stroke="#1a1a1a" stroke-width="1.1"/>
<line x1="485.47" y1="583.00" x2="490.07" y2="583.00" stroke="#1a1a1a" stroke-width="1.1"/>
<rect x="491.85" y="627.70" width="8.15" height="40.30" fill="#6caf48"/>
<line x1="495.92" y1="627.70" x2="495.92" y2="621.50" stroke="#1a1a1a" stroke-width="1.1"/>
<line x1="493.62" y1="621.50" x2="498.22" y2="621.50" stroke="#1a1a1a" stroke-width="1.1"/>
<rect x="500.00" y="592.90" width="8.15" height="75.10" fill="#5b2670"/>
<line x1="504.07" y1="592.90" x2="504.07" y2="586.20" stroke="#1a1a1a" stroke-width="1.1"/>
<line x1="501.77" y1="586.20" x2="506.38" y2="586.20" stroke="#1a1a1a" stroke-width="1.1"/>
<line x1="495.93" y1="668.00" x2="495.93" y2="671.00" stroke="#1a1a1a" stroke-width="1.1"/>
<text x="495.93" y="680.20" font-size="8.0" text-anchor="middle" fill="#222" font-weight="normal" stroke="#222" stroke-width="0.22" >5 d</text>
<line x1="383.10" y1="576.50" x2="383.10" y2="668.60" stroke="#1a1a1a" stroke-width="1.3"/>
<line x1="382.50" y1="668.00" x2="511.00" y2="668.00" stroke="#1a1a1a" stroke-width="1.3"/>
<text x="447.70" y="693.60" font-size="8.8" text-anchor="middle" fill="#222" font-weight="normal" stroke="#222" stroke-width="0.22" >APL</text>
<circle cx="422.60" cy="617.20" r="1.00" fill="#222"/>
<text x="430.80" y="632.00" font-size="6.8" text-anchor="middle" fill="#555" font-weight="normal" stroke="#555" stroke-width="0.1" font-style="italic">#</text>
<circle cx="454.40" cy="595.40" r="1.00" fill="#222"/>
<circle cx="457.20" cy="595.40" r="1.00" fill="#222"/>
<text x="463.90" y="624.50" font-size="6.8" text-anchor="middle" fill="#555" font-weight="normal" stroke="#555" stroke-width="0.1" font-style="italic">##</text>
<circle cx="486.40" cy="578.70" r="1.00" fill="#222"/>
<circle cx="489.20" cy="578.70" r="1.00" fill="#222"/>
<text x="495.90" y="620.50" font-size="6.8" text-anchor="middle" fill="#555" font-weight="normal" stroke="#555" stroke-width="0.1" font-style="italic">##</text>
<rect x="0" y="0" width="520" height="703" fill="none" stroke="#000" stroke-width="3"/>
</svg></body></html>
